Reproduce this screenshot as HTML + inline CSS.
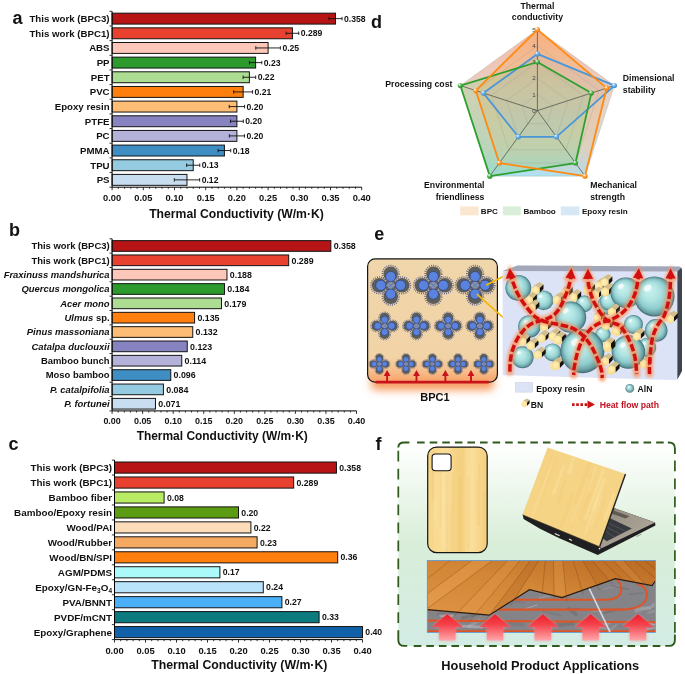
<!DOCTYPE html>
<html><head><meta charset="utf-8"><title>Figure</title>
<style>html,body{margin:0;padding:0;background:#fff}svg{display:block}text{font-family:"Liberation Sans",Arial,sans-serif;font-weight:bold;fill:#111}</style>
</head><body>
<svg width="685" height="674" viewBox="0 0 685 674">
<rect width="685" height="674" fill="#fff"/>
<g id="chartA"><rect x="112.10" y="13.17" width="223.39" height="10.92" fill="#B71515" stroke="#141414" stroke-width="1"/>
<path d="M328.94 18.63H342.04M328.94 16.88v3.5M342.04 16.88v3.5" stroke="#111" stroke-width="0.9" fill="none"/>
<text x="344.04" y="21.74" font-size="8.65" >0.358</text>
<text x="109.60" y="22.12" font-size="9.7" text-anchor="end">This work (BPC3)</text>
<rect x="112.10" y="27.83" width="180.34" height="10.92" fill="#E9412F" stroke="#141414" stroke-width="1"/>
<path d="M286.13 33.29H298.74M286.13 31.54v3.5M298.74 31.54v3.5" stroke="#111" stroke-width="0.9" fill="none"/>
<text x="300.74" y="36.40" font-size="8.65" >0.289</text>
<text x="109.60" y="36.78" font-size="9.7" text-anchor="end">This work (BPC1)</text>
<rect x="112.10" y="42.49" width="156.00" height="10.92" fill="#FCC6B8" stroke="#141414" stroke-width="1"/>
<path d="M255.81 47.95H280.39M255.81 46.20v3.5M280.39 46.20v3.5" stroke="#111" stroke-width="0.9" fill="none"/>
<text x="282.39" y="51.06" font-size="8.65" >0.25</text>
<text x="109.60" y="51.44" font-size="9.7" text-anchor="end">ABS</text>
<rect x="112.10" y="57.14" width="143.52" height="10.92" fill="#2D9A2D" stroke="#141414" stroke-width="1"/>
<path d="M249.44 62.60H261.80M249.44 60.85v3.5M261.80 60.85v3.5" stroke="#111" stroke-width="0.9" fill="none"/>
<text x="263.80" y="65.72" font-size="8.65" >0.23</text>
<text x="109.60" y="66.10" font-size="9.7" text-anchor="end">PP</text>
<rect x="112.10" y="71.80" width="137.28" height="10.92" fill="#ACDD92" stroke="#141414" stroke-width="1"/>
<path d="M243.08 77.26H255.68M243.08 75.51v3.5M255.68 75.51v3.5" stroke="#111" stroke-width="0.9" fill="none"/>
<text x="257.68" y="80.38" font-size="8.65" >0.22</text>
<text x="109.60" y="80.75" font-size="9.7" text-anchor="end">PET</text>
<rect x="112.10" y="86.46" width="131.04" height="10.92" fill="#FF7F0E" stroke="#141414" stroke-width="1"/>
<path d="M233.72 91.92H252.56M233.72 90.17v3.5M252.56 90.17v3.5" stroke="#111" stroke-width="0.9" fill="none"/>
<text x="254.56" y="95.03" font-size="8.65" >0.21</text>
<text x="109.60" y="95.41" font-size="9.7" text-anchor="end">PVC</text>
<rect x="112.10" y="101.12" width="124.80" height="10.92" fill="#FDBD74" stroke="#141414" stroke-width="1"/>
<path d="M229.22 106.58H244.58M229.22 104.83v3.5M244.58 104.83v3.5" stroke="#111" stroke-width="0.9" fill="none"/>
<text x="246.58" y="109.69" font-size="8.65" >0.20</text>
<text x="109.60" y="110.07" font-size="9.7" text-anchor="end">Epoxy resin</text>
<rect x="112.10" y="115.78" width="124.80" height="10.92" fill="#8783C1" stroke="#141414" stroke-width="1"/>
<path d="M230.47 121.24H243.33M230.47 119.49v3.5M243.33 119.49v3.5" stroke="#111" stroke-width="0.9" fill="none"/>
<text x="245.33" y="124.35" font-size="8.65" >0.20</text>
<text x="109.60" y="124.73" font-size="9.7" text-anchor="end">PTFE</text>
<rect x="112.10" y="130.44" width="124.80" height="10.92" fill="#B4B2D8" stroke="#141414" stroke-width="1"/>
<path d="M229.35 135.90H244.45M229.35 134.15v3.5M244.45 134.15v3.5" stroke="#111" stroke-width="0.9" fill="none"/>
<text x="246.45" y="139.01" font-size="8.65" >0.20</text>
<text x="109.60" y="139.39" font-size="9.7" text-anchor="end">PC</text>
<rect x="112.10" y="145.09" width="112.32" height="10.92" fill="#3E8EC4" stroke="#141414" stroke-width="1"/>
<path d="M218.12 150.55H230.72M218.12 148.80v3.5M230.72 148.80v3.5" stroke="#111" stroke-width="0.9" fill="none"/>
<text x="232.72" y="153.67" font-size="8.65" >0.18</text>
<text x="109.60" y="154.05" font-size="9.7" text-anchor="end">PMMA</text>
<rect x="112.10" y="159.75" width="81.12" height="10.92" fill="#95CBE1" stroke="#141414" stroke-width="1"/>
<path d="M186.67 165.21H199.77M186.67 163.46v3.5M199.77 163.46v3.5" stroke="#111" stroke-width="0.9" fill="none"/>
<text x="201.77" y="168.33" font-size="8.65" >0.13</text>
<text x="109.60" y="168.70" font-size="9.7" text-anchor="end">TPU</text>
<rect x="112.10" y="174.41" width="74.88" height="10.92" fill="#C8DDF0" stroke="#141414" stroke-width="1"/>
<path d="M174.31 179.87H199.65M174.31 178.12v3.5M199.65 178.12v3.5" stroke="#111" stroke-width="0.9" fill="none"/>
<text x="201.65" y="182.98" font-size="8.65" >0.12</text>
<text x="109.60" y="183.36" font-size="9.7" text-anchor="end">PS</text>
<path d="M112.10 11.30V187.20H361.70" stroke="#000" stroke-width="1" fill="none"/>
<path d="M112.10 11.30h-2.6M112.10 25.96h-2.6M112.10 40.62h-2.6M112.10 55.27h-2.6M112.10 69.93h-2.6M112.10 84.59h-2.6M112.10 99.25h-2.6M112.10 113.91h-2.6M112.10 128.57h-2.6M112.10 143.22h-2.6M112.10 157.88h-2.6M112.10 172.54h-2.6M112.10 187.20h-2.6M112.10 187.20v3.0M118.34 187.20v1.6M124.58 187.20v1.6M130.82 187.20v1.6M137.06 187.20v1.6M143.30 187.20v3.0M149.54 187.20v1.6M155.78 187.20v1.6M162.02 187.20v1.6M168.26 187.20v1.6M174.50 187.20v3.0M180.74 187.20v1.6M186.98 187.20v1.6M193.22 187.20v1.6M199.46 187.20v1.6M205.70 187.20v3.0M211.94 187.20v1.6M218.18 187.20v1.6M224.42 187.20v1.6M230.66 187.20v1.6M236.90 187.20v3.0M243.14 187.20v1.6M249.38 187.20v1.6M255.62 187.20v1.6M261.86 187.20v1.6M268.10 187.20v3.0M274.34 187.20v1.6M280.58 187.20v1.6M286.82 187.20v1.6M293.06 187.20v1.6M299.30 187.20v3.0M305.54 187.20v1.6M311.78 187.20v1.6M318.02 187.20v1.6M324.26 187.20v1.6M330.50 187.20v3.0M336.74 187.20v1.6M342.98 187.20v1.6M349.22 187.20v1.6M355.46 187.20v1.6M361.70 187.20v3.0" stroke="#000" stroke-width="0.8" fill="none"/>
<text x="112.10" y="200.55" font-size="9.3" text-anchor="middle">0.00</text>
<text x="143.30" y="200.55" font-size="9.3" text-anchor="middle">0.05</text>
<text x="174.50" y="200.55" font-size="9.3" text-anchor="middle">0.10</text>
<text x="205.70" y="200.55" font-size="9.3" text-anchor="middle">0.15</text>
<text x="236.90" y="200.55" font-size="9.3" text-anchor="middle">0.20</text>
<text x="268.10" y="200.55" font-size="9.3" text-anchor="middle">0.25</text>
<text x="299.30" y="200.55" font-size="9.3" text-anchor="middle">0.30</text>
<text x="330.50" y="200.55" font-size="9.3" text-anchor="middle">0.35</text>
<text x="361.70" y="200.55" font-size="9.3" text-anchor="middle">0.40</text>
<text x="236.50" y="218.29" font-size="12.2" text-anchor="middle">Thermal Conductivity (W/m·K)</text></g>
<g id="chartB"><rect x="112.10" y="240.63" width="218.74" height="10.68" fill="#B71515" stroke="#141414" stroke-width="1"/>
<text x="333.64" y="249.16" font-size="8.85" >0.358</text>
<text x="109.60" y="249.37" font-size="9.45" text-anchor="end">This work (BPC3)</text>
<rect x="112.10" y="254.97" width="176.58" height="10.68" fill="#E9412F" stroke="#141414" stroke-width="1"/>
<text x="291.48" y="263.50" font-size="8.85" >0.289</text>
<text x="109.60" y="263.71" font-size="9.45" text-anchor="end">This work (BPC1)</text>
<rect x="112.10" y="269.31" width="114.87" height="10.68" fill="#FCC6B8" stroke="#141414" stroke-width="1"/>
<text x="229.77" y="277.84" font-size="8.85" >0.188</text>
<text x="109.60" y="278.06" font-size="9.45" text-anchor="end"><tspan font-style="italic">Fraxinuss mandshurica</tspan></text>
<rect x="112.10" y="283.65" width="112.42" height="10.68" fill="#2D9A2D" stroke="#141414" stroke-width="1"/>
<text x="227.32" y="292.18" font-size="8.85" >0.184</text>
<text x="109.60" y="292.40" font-size="9.45" text-anchor="end"><tspan font-style="italic">Quercus mongolica</tspan></text>
<rect x="112.10" y="298.00" width="109.37" height="10.68" fill="#ACDD92" stroke="#141414" stroke-width="1"/>
<text x="224.27" y="306.52" font-size="8.85" >0.179</text>
<text x="109.60" y="306.74" font-size="9.45" text-anchor="end"><tspan font-style="italic">Acer mono</tspan></text>
<rect x="112.10" y="312.34" width="82.48" height="10.68" fill="#FF7F0E" stroke="#141414" stroke-width="1"/>
<text x="197.38" y="320.87" font-size="8.85" >0.135</text>
<text x="109.60" y="321.08" font-size="9.45" text-anchor="end"><tspan font-style="italic">Ulmus</tspan> sp.</text>
<rect x="112.10" y="326.68" width="80.65" height="10.68" fill="#FDBD74" stroke="#141414" stroke-width="1"/>
<text x="195.55" y="335.21" font-size="8.85" >0.132</text>
<text x="109.60" y="335.42" font-size="9.45" text-anchor="end"><tspan font-style="italic">Pinus massoniana</tspan></text>
<rect x="112.10" y="341.02" width="75.15" height="10.68" fill="#8783C1" stroke="#141414" stroke-width="1"/>
<text x="190.05" y="349.55" font-size="8.85" >0.123</text>
<text x="109.60" y="349.76" font-size="9.45" text-anchor="end"><tspan font-style="italic">Catalpa duclouxii</tspan></text>
<rect x="112.10" y="355.36" width="69.65" height="10.68" fill="#B4B2D8" stroke="#141414" stroke-width="1"/>
<text x="184.55" y="363.89" font-size="8.85" >0.114</text>
<text x="109.60" y="364.11" font-size="9.45" text-anchor="end">Bamboo bunch</text>
<rect x="112.10" y="369.70" width="58.66" height="10.68" fill="#3E8EC4" stroke="#141414" stroke-width="1"/>
<text x="173.56" y="378.23" font-size="8.85" >0.096</text>
<text x="109.60" y="378.45" font-size="9.45" text-anchor="end">Moso bamboo</text>
<rect x="112.10" y="384.05" width="51.32" height="10.68" fill="#95CBE1" stroke="#141414" stroke-width="1"/>
<text x="166.22" y="392.57" font-size="8.85" >0.084</text>
<text x="109.60" y="392.79" font-size="9.45" text-anchor="end"><tspan font-style="italic">P. catalpifolia</tspan></text>
<rect x="112.10" y="398.39" width="43.38" height="10.68" fill="#C8DDF0" stroke="#141414" stroke-width="1"/>
<text x="158.28" y="406.92" font-size="8.85" >0.071</text>
<text x="109.60" y="407.13" font-size="9.45" text-anchor="end"><tspan font-style="italic">P. fortunei</tspan></text>
<path d="M112.10 238.80V410.90H356.50" stroke="#000" stroke-width="1" fill="none"/>
<path d="M112.10 238.80h-2.6M112.10 253.14h-2.6M112.10 267.48h-2.6M112.10 281.82h-2.6M112.10 296.17h-2.6M112.10 310.51h-2.6M112.10 324.85h-2.6M112.10 339.19h-2.6M112.10 353.53h-2.6M112.10 367.88h-2.6M112.10 382.22h-2.6M112.10 396.56h-2.6M112.10 410.90h-2.6M112.10 410.90v3.0M118.21 410.90v1.6M124.32 410.90v1.6M130.43 410.90v1.6M136.54 410.90v1.6M142.65 410.90v3.0M148.76 410.90v1.6M154.87 410.90v1.6M160.98 410.90v1.6M167.09 410.90v1.6M173.20 410.90v3.0M179.31 410.90v1.6M185.42 410.90v1.6M191.53 410.90v1.6M197.64 410.90v1.6M203.75 410.90v3.0M209.86 410.90v1.6M215.97 410.90v1.6M222.08 410.90v1.6M228.19 410.90v1.6M234.30 410.90v3.0M240.41 410.90v1.6M246.52 410.90v1.6M252.63 410.90v1.6M258.74 410.90v1.6M264.85 410.90v3.0M270.96 410.90v1.6M277.07 410.90v1.6M283.18 410.90v1.6M289.29 410.90v1.6M295.40 410.90v3.0M301.51 410.90v1.6M307.62 410.90v1.6M313.73 410.90v1.6M319.84 410.90v1.6M325.95 410.90v3.0M332.06 410.90v1.6M338.17 410.90v1.6M344.28 410.90v1.6M350.39 410.90v1.6M356.50 410.90v3.0" stroke="#000" stroke-width="0.8" fill="none"/>
<text x="112.10" y="424.12" font-size="8.95" text-anchor="middle">0.00</text>
<text x="142.65" y="424.12" font-size="8.95" text-anchor="middle">0.05</text>
<text x="173.20" y="424.12" font-size="8.95" text-anchor="middle">0.10</text>
<text x="203.75" y="424.12" font-size="8.95" text-anchor="middle">0.15</text>
<text x="234.30" y="424.12" font-size="8.95" text-anchor="middle">0.20</text>
<text x="264.85" y="424.12" font-size="8.95" text-anchor="middle">0.25</text>
<text x="295.40" y="424.12" font-size="8.95" text-anchor="middle">0.30</text>
<text x="325.95" y="424.12" font-size="8.95" text-anchor="middle">0.35</text>
<text x="356.50" y="424.12" font-size="8.95" text-anchor="middle">0.40</text>
<text x="222.20" y="440.00" font-size="11.95" text-anchor="middle">Thermal Conductivity (W/m·K)</text></g>
<g id="chartC"><rect x="114.50" y="462.01" width="221.96" height="11.14" fill="#B71515" stroke="#141414" stroke-width="1"/>
<text x="339.26" y="470.71" font-size="8.7" >0.358</text>
<text x="112.00" y="471.13" font-size="9.85" text-anchor="end">This work (BPC3)</text>
<rect x="114.50" y="476.97" width="179.18" height="11.14" fill="#E9412F" stroke="#141414" stroke-width="1"/>
<text x="296.48" y="485.67" font-size="8.7" >0.289</text>
<text x="112.00" y="486.08" font-size="9.85" text-anchor="end">This work (BPC1)</text>
<rect x="114.50" y="491.92" width="49.60" height="11.14" fill="#B9EA63" stroke="#141414" stroke-width="1"/>
<text x="166.90" y="500.63" font-size="8.7" >0.08</text>
<text x="112.00" y="501.04" font-size="9.85" text-anchor="end">Bamboo fiber</text>
<rect x="114.50" y="506.88" width="124.00" height="11.14" fill="#5B9C12" stroke="#141414" stroke-width="1"/>
<text x="241.30" y="515.59" font-size="8.7" >0.20</text>
<text x="112.00" y="516.00" font-size="9.85" text-anchor="end">Bamboo/Epoxy resin</text>
<rect x="114.50" y="521.84" width="136.40" height="11.14" fill="#FDDCBA" stroke="#141414" stroke-width="1"/>
<text x="253.70" y="530.54" font-size="8.7" >0.22</text>
<text x="112.00" y="530.96" font-size="9.85" text-anchor="end">Wood/PAI</text>
<rect x="114.50" y="536.80" width="142.60" height="11.14" fill="#F5A962" stroke="#141414" stroke-width="1"/>
<text x="259.90" y="545.50" font-size="8.7" >0.23</text>
<text x="112.00" y="545.92" font-size="9.85" text-anchor="end">Wood/Rubber</text>
<rect x="114.50" y="551.76" width="223.20" height="11.14" fill="#FF7F0E" stroke="#141414" stroke-width="1"/>
<text x="340.50" y="560.46" font-size="8.7" >0.36</text>
<text x="112.00" y="560.88" font-size="9.85" text-anchor="end">Wood/BN/SPI</text>
<rect x="114.50" y="566.72" width="105.40" height="11.14" fill="#ABFAFA" stroke="#141414" stroke-width="1"/>
<text x="222.70" y="575.42" font-size="8.7" >0.17</text>
<text x="112.00" y="575.83" font-size="9.85" text-anchor="end">AGM/PDMS</text>
<rect x="114.50" y="581.67" width="148.80" height="11.14" fill="#B9E3FB" stroke="#141414" stroke-width="1"/>
<text x="266.10" y="590.38" font-size="8.7" >0.24</text>
<text x="112.00" y="590.79" font-size="9.85" text-anchor="end">Epoxy/GN-Fe<tspan font-size="6.5" dy="2">3</tspan><tspan dy="-2">O</tspan><tspan font-size="6.5" dy="2">4</tspan></text>
<rect x="114.50" y="596.63" width="167.40" height="11.14" fill="#4BAFF8" stroke="#141414" stroke-width="1"/>
<text x="284.70" y="605.34" font-size="8.7" >0.27</text>
<text x="112.00" y="605.75" font-size="9.85" text-anchor="end">PVA/BNNT</text>
<rect x="114.50" y="611.59" width="204.60" height="11.14" fill="#0B7B80" stroke="#141414" stroke-width="1"/>
<text x="321.90" y="620.29" font-size="8.7" >0.33</text>
<text x="112.00" y="620.71" font-size="9.85" text-anchor="end">PVDF/mCNT</text>
<rect x="114.50" y="626.55" width="248.00" height="11.14" fill="#1161A9" stroke="#141414" stroke-width="1"/>
<text x="365.30" y="635.25" font-size="8.7" >0.40</text>
<text x="112.00" y="635.67" font-size="9.85" text-anchor="end">Epoxy/Graphene</text>
<path d="M114.50 460.10V639.60H362.50" stroke="#000" stroke-width="1" fill="none"/>
<path d="M114.50 460.10h-2.6M114.50 475.06h-2.6M114.50 490.02h-2.6M114.50 504.98h-2.6M114.50 519.93h-2.6M114.50 534.89h-2.6M114.50 549.85h-2.6M114.50 564.81h-2.6M114.50 579.77h-2.6M114.50 594.73h-2.6M114.50 609.68h-2.6M114.50 624.64h-2.6M114.50 639.60h-2.6M114.50 639.60v3.0M120.70 639.60v1.6M126.90 639.60v1.6M133.10 639.60v1.6M139.30 639.60v1.6M145.50 639.60v3.0M151.70 639.60v1.6M157.90 639.60v1.6M164.10 639.60v1.6M170.30 639.60v1.6M176.50 639.60v3.0M182.70 639.60v1.6M188.90 639.60v1.6M195.10 639.60v1.6M201.30 639.60v1.6M207.50 639.60v3.0M213.70 639.60v1.6M219.90 639.60v1.6M226.10 639.60v1.6M232.30 639.60v1.6M238.50 639.60v3.0M244.70 639.60v1.6M250.90 639.60v1.6M257.10 639.60v1.6M263.30 639.60v1.6M269.50 639.60v3.0M275.70 639.60v1.6M281.90 639.60v1.6M288.10 639.60v1.6M294.30 639.60v1.6M300.50 639.60v3.0M306.70 639.60v1.6M312.90 639.60v1.6M319.10 639.60v1.6M325.30 639.60v1.6M331.50 639.60v3.0M337.70 639.60v1.6M343.90 639.60v1.6M350.10 639.60v1.6M356.30 639.60v1.6M362.50 639.60v3.0" stroke="#000" stroke-width="0.8" fill="none"/>
<text x="114.50" y="653.58" font-size="9.4" text-anchor="middle">0.00</text>
<text x="145.50" y="653.58" font-size="9.4" text-anchor="middle">0.05</text>
<text x="176.50" y="653.58" font-size="9.4" text-anchor="middle">0.10</text>
<text x="207.50" y="653.58" font-size="9.4" text-anchor="middle">0.15</text>
<text x="238.50" y="653.58" font-size="9.4" text-anchor="middle">0.20</text>
<text x="269.50" y="653.58" font-size="9.4" text-anchor="middle">0.25</text>
<text x="300.50" y="653.58" font-size="9.4" text-anchor="middle">0.30</text>
<text x="331.50" y="653.58" font-size="9.4" text-anchor="middle">0.35</text>
<text x="362.50" y="653.58" font-size="9.4" text-anchor="middle">0.40</text>
<text x="239.30" y="669.33" font-size="12.3" text-anchor="middle">Thermal Conductivity (W/m·K)</text></g>
<text x="12.5" y="24" font-size="18">a</text><text x="9" y="236.4" font-size="18">b</text><text x="8.5" y="449.7" font-size="18">c</text><text x="371" y="28.2" font-size="18">d</text><text x="374.2" y="240.2" font-size="18">e</text><text x="375.5" y="450.2" font-size="18">f</text>

<g id="radar"><defs>
<linearGradient id="rbg" x1="0" y1="0" x2="0" y2="1"><stop offset="0" stop-color="#F4B9A4"/><stop offset="0.45" stop-color="#E6D3C9"/><stop offset="0.82" stop-color="#D6D8D5"/><stop offset="0.93" stop-color="#BCDDE8"/><stop offset="1" stop-color="#AEE1F4"/></linearGradient>
<radialGradient id="mO" cx="0.35" cy="0.3" r="0.7"><stop offset="0" stop-color="#fff"/><stop offset="0.45" stop-color="#FFA23C"/><stop offset="1" stop-color="#F07C00"/></radialGradient>
<radialGradient id="mG" cx="0.35" cy="0.3" r="0.7"><stop offset="0" stop-color="#fff"/><stop offset="0.45" stop-color="#55B955"/><stop offset="1" stop-color="#259025"/></radialGradient>
<radialGradient id="mB" cx="0.35" cy="0.3" r="0.7"><stop offset="0" stop-color="#fff"/><stop offset="0.45" stop-color="#6FB1E6"/><stop offset="1" stop-color="#3F8FD0"/></radialGradient>
<linearGradient id="fO" gradientUnits="userSpaceOnUse" x1="0" y1="29" x2="0" y2="177"><stop offset="0" stop-color="#FBA550" stop-opacity="0.40"/><stop offset="0.5" stop-color="#F8AA5A" stop-opacity="0.30"/><stop offset="1" stop-color="#F5B070" stop-opacity="0.10"/></linearGradient>
<linearGradient id="fG" gradientUnits="userSpaceOnUse" x1="0" y1="60" x2="0" y2="177"><stop offset="0" stop-color="#8CCB70" stop-opacity="0.22"/><stop offset="1" stop-color="#7ED08A" stop-opacity="0.36"/></linearGradient>
</defs><polygon points="537.40,29.60 614.44,85.57 585.01,176.13 489.79,176.13 460.36,85.57" fill="url(#rbg)"/><polygon points="537.40,29.60 606.73,88.07 585.01,176.13 499.31,163.02 475.77,90.58" fill="url(#fO)"/><polygon points="537.40,62.00 591.32,93.08 575.49,163.02 489.79,176.13 460.36,85.57" fill="url(#fG)"/><polygon points="537.40,53.90 614.44,85.57 556.44,136.81 518.36,136.81 483.48,93.08" fill="#8FBBE0" fill-opacity="0.14"/><polygon points="537.40,94.40 552.81,105.59 546.92,123.71 527.88,123.71 521.99,105.59" fill="none" stroke="#9A9A8A" stroke-opacity="0.55" stroke-width="0.5"/><polygon points="537.40,78.20 568.21,100.59 556.44,136.81 518.36,136.81 506.59,100.59" fill="none" stroke="#9A9A8A" stroke-opacity="0.55" stroke-width="0.5"/><polygon points="537.40,62.00 583.62,95.58 565.97,149.92 508.83,149.92 491.18,95.58" fill="none" stroke="#9A9A8A" stroke-opacity="0.55" stroke-width="0.5"/><polygon points="537.40,45.80 599.03,90.58 575.49,163.02 499.31,163.02 475.77,90.58" fill="none" stroke="#9A9A8A" stroke-opacity="0.55" stroke-width="0.5"/><polygon points="537.40,29.60 614.44,85.57 585.01,176.13 489.79,176.13 460.36,85.57" fill="none" stroke="#9A9A8A" stroke-opacity="0.55" stroke-width="0.5"/><path d="M537.4 110.6L537.40 29.60" stroke="#222" stroke-width="0.55"/><path d="M537.4 110.6L614.44 85.57" stroke="#222" stroke-width="0.55"/><path d="M537.4 110.6L585.01 176.13" stroke="#222" stroke-width="0.55"/><path d="M537.4 110.6L489.79 176.13" stroke="#222" stroke-width="0.55"/><path d="M537.4 110.6L460.36 85.57" stroke="#222" stroke-width="0.55"/><text x="535.80" y="112.80" font-size="6.2" text-anchor="end" style="fill:#444;font-weight:normal">0</text><text x="535.80" y="96.60" font-size="6.2" text-anchor="end" style="fill:#444;font-weight:normal">1</text><text x="535.80" y="80.40" font-size="6.2" text-anchor="end" style="fill:#444;font-weight:normal">2</text><text x="535.80" y="64.20" font-size="6.2" text-anchor="end" style="fill:#444;font-weight:normal">3</text><text x="535.80" y="48.00" font-size="6.2" text-anchor="end" style="fill:#444;font-weight:normal">4</text><text x="535.80" y="31.80" font-size="6.2" text-anchor="end" style="fill:#444;font-weight:normal">5</text><polygon points="537.40,53.90 614.44,85.57 556.44,136.81 518.36,136.81 483.48,93.08" fill="none" stroke="#4A97D8" stroke-width="1.8" stroke-linejoin="round"/><polygon points="537.40,62.00 591.32,93.08 575.49,163.02 489.79,176.13 460.36,85.57" fill="none" stroke="#2FA02F" stroke-width="1.8" stroke-linejoin="round"/><polygon points="537.40,29.60 606.73,88.07 585.01,176.13 499.31,163.02 475.77,90.58" fill="none" stroke="#FF8A10" stroke-width="1.8" stroke-linejoin="round"/><circle cx="537.40" cy="53.90" r="2.6" fill="url(#mB)"/><circle cx="614.44" cy="85.57" r="2.6" fill="url(#mB)"/><circle cx="556.44" cy="136.81" r="2.6" fill="url(#mB)"/><circle cx="518.36" cy="136.81" r="2.6" fill="url(#mB)"/><circle cx="483.48" cy="93.08" r="2.6" fill="url(#mB)"/><circle cx="537.40" cy="62.00" r="2.6" fill="url(#mG)"/><circle cx="591.32" cy="93.08" r="2.6" fill="url(#mG)"/><circle cx="575.49" cy="163.02" r="2.6" fill="url(#mG)"/><circle cx="489.79" cy="176.13" r="2.6" fill="url(#mG)"/><circle cx="460.36" cy="85.57" r="2.6" fill="url(#mG)"/><circle cx="537.40" cy="29.60" r="2.6" fill="url(#mO)"/><circle cx="606.73" cy="88.07" r="2.6" fill="url(#mO)"/><circle cx="585.01" cy="176.13" r="2.6" fill="url(#mO)"/><circle cx="499.31" cy="163.02" r="2.6" fill="url(#mO)"/><circle cx="475.77" cy="90.58" r="2.6" fill="url(#mO)"/><text x="537.4" y="8.73" font-size="8.7" text-anchor="middle">Thermal</text><text x="537.4" y="20.23" font-size="8.7" text-anchor="middle">conductivity</text><text x="622.8" y="81.23" font-size="8.7" text-anchor="start">Dimensional</text><text x="622.8" y="92.53" font-size="8.7" text-anchor="start">stability</text><text x="590.2" y="188.33" font-size="8.7" text-anchor="start">Mechanical</text><text x="590.2" y="199.63" font-size="8.7" text-anchor="start">strength</text><text x="484.4" y="188.33" font-size="8.7" text-anchor="end">Environmental</text><text x="484.4" y="199.63" font-size="8.7" text-anchor="end">friendliness</text><text x="452.4" y="87.03" font-size="8.7" text-anchor="end">Processing cost</text><rect x="460.3" y="206.4" width="18.2" height="8.9" fill="#FBE6CF"/><rect x="503" y="206.4" width="17.8" height="8.9" fill="#D9EFD9"/><rect x="560.8" y="206.4" width="18.6" height="8.9" fill="#D6E8F6"/><text x="480.8" y="213.82" font-size="8.1" text-anchor="start">BPC</text><text x="523.4" y="213.82" font-size="8.1" text-anchor="start">Bamboo</text><text x="581.9" y="213.82" font-size="8.1" text-anchor="start">Epoxy resin</text></g>

<g id="schem"><defs>
<linearGradient id="boxg" x1="0" y1="0" x2="0" y2="1"><stop offset="0" stop-color="#F0D6AB"/><stop offset="0.8" stop-color="#F1D3A6"/><stop offset="0.92" stop-color="#F6BC88"/><stop offset="1" stop-color="#F9A068"/></linearGradient>
<radialGradient id="sph" cx="0.5" cy="0.5" r="0.5" fx="0.34" fy="0.3"><stop offset="0" stop-color="#D0F4F1"/><stop offset="0.45" stop-color="#AEE3E1"/><stop offset="0.72" stop-color="#90CDCE"/><stop offset="0.9" stop-color="#679FA4"/><stop offset="1" stop-color="#3F686F"/></radialGradient>
<radialGradient id="sphs" cx="0.5" cy="0.5" r="0.5" fx="0.36" fy="0.32"><stop offset="0" stop-color="#E8FBFA"/><stop offset="0.45" stop-color="#A7D9D9"/><stop offset="1" stop-color="#4F868C"/></radialGradient>
<radialGradient id="bng" cx="0.45" cy="0.45" r="0.6"><stop offset="0" stop-color="#FFF3BE"/><stop offset="0.7" stop-color="#FBE297"/><stop offset="1" stop-color="#F2CE78"/></radialGradient>
<filter id="glow" x="-20%" y="-20%" width="140%" height="140%"><feGaussianBlur stdDeviation="1.5"/></filter>
<filter id="glow2" x="-30%" y="-100%" width="160%" height="300%"><feGaussianBlur stdDeviation="4"/></filter>
<filter id="b1" x="-50%" y="-50%" width="200%" height="200%"><feGaussianBlur stdDeviation="0.6"/></filter>
</defs><rect x="371" y="375" width="123" height="15" rx="5" fill="#F7995A" filter="url(#glow2)"/><rect x="367.6" y="258.9" width="129.8" height="123.2" rx="7.5" fill="url(#boxg)" stroke="#151515" stroke-width="1.2"/><g transform="translate(390.70 285.30)"><circle cx="0.00" cy="-11.45" r="8.31" fill="none" stroke="#66678A" stroke-width="1.57" stroke-dasharray="1.00 1.15"/><circle cx="11.45" cy="0.00" r="8.31" fill="none" stroke="#66678A" stroke-width="1.57" stroke-dasharray="1.00 1.15"/><circle cx="0.00" cy="11.45" r="8.31" fill="none" stroke="#66678A" stroke-width="1.57" stroke-dasharray="1.00 1.15"/><circle cx="-11.45" cy="0.00" r="8.31" fill="none" stroke="#66678A" stroke-width="1.57" stroke-dasharray="1.00 1.15"/><circle cx="0.00" cy="-11.45" r="7.31" fill="#5A5D59"/><circle cx="11.45" cy="0.00" r="7.31" fill="#5A5D59"/><circle cx="0.00" cy="11.45" r="7.31" fill="#5A5D59"/><circle cx="-11.45" cy="0.00" r="7.31" fill="#5A5D59"/><circle r="5.94" fill="#5A5D59"/><rect x="-3.39" y="-3.39" width="6.78" height="6.78" fill="#8C93A8" transform="rotate(45)"/><path d="M-3.39 -3.39L3.39 3.39M3.39 -3.39L-3.39 3.39" stroke="#5A78C8" stroke-width="0.95"/><circle cx="0.00" cy="-8.77" r="5.09" fill="#5A83E0" stroke="#2F3F78" stroke-width="0.68"/><circle cx="9.89" cy="0.00" r="5.09" fill="#5A83E0" stroke="#2F3F78" stroke-width="0.68"/><circle cx="0.00" cy="8.77" r="5.09" fill="#5A83E0" stroke="#2F3F78" stroke-width="0.68"/><circle cx="-9.89" cy="0.00" r="5.09" fill="#5A83E0" stroke="#2F3F78" stroke-width="0.68"/></g><g transform="translate(433.40 285.30)"><circle cx="0.00" cy="-11.45" r="8.31" fill="none" stroke="#66678A" stroke-width="1.57" stroke-dasharray="1.00 1.15"/><circle cx="11.45" cy="0.00" r="8.31" fill="none" stroke="#66678A" stroke-width="1.57" stroke-dasharray="1.00 1.15"/><circle cx="0.00" cy="11.45" r="8.31" fill="none" stroke="#66678A" stroke-width="1.57" stroke-dasharray="1.00 1.15"/><circle cx="-11.45" cy="0.00" r="8.31" fill="none" stroke="#66678A" stroke-width="1.57" stroke-dasharray="1.00 1.15"/><circle cx="0.00" cy="-11.45" r="7.31" fill="#5A5D59"/><circle cx="11.45" cy="0.00" r="7.31" fill="#5A5D59"/><circle cx="0.00" cy="11.45" r="7.31" fill="#5A5D59"/><circle cx="-11.45" cy="0.00" r="7.31" fill="#5A5D59"/><circle r="5.94" fill="#5A5D59"/><rect x="-3.39" y="-3.39" width="6.78" height="6.78" fill="#8C93A8" transform="rotate(45)"/><path d="M-3.39 -3.39L3.39 3.39M3.39 -3.39L-3.39 3.39" stroke="#5A78C8" stroke-width="0.95"/><circle cx="0.00" cy="-8.77" r="5.09" fill="#5A83E0" stroke="#2F3F78" stroke-width="0.68"/><circle cx="9.89" cy="0.00" r="5.09" fill="#5A83E0" stroke="#2F3F78" stroke-width="0.68"/><circle cx="0.00" cy="8.77" r="5.09" fill="#5A83E0" stroke="#2F3F78" stroke-width="0.68"/><circle cx="-9.89" cy="0.00" r="5.09" fill="#5A83E0" stroke="#2F3F78" stroke-width="0.68"/></g><g transform="translate(475.10 285.30)"><circle cx="0.00" cy="-11.45" r="8.31" fill="none" stroke="#66678A" stroke-width="1.57" stroke-dasharray="1.00 1.15"/><circle cx="11.45" cy="0.00" r="8.31" fill="none" stroke="#66678A" stroke-width="1.57" stroke-dasharray="1.00 1.15"/><circle cx="0.00" cy="11.45" r="8.31" fill="none" stroke="#66678A" stroke-width="1.57" stroke-dasharray="1.00 1.15"/><circle cx="-11.45" cy="0.00" r="8.31" fill="none" stroke="#66678A" stroke-width="1.57" stroke-dasharray="1.00 1.15"/><circle cx="0.00" cy="-11.45" r="7.31" fill="#5A5D59"/><circle cx="11.45" cy="0.00" r="7.31" fill="#5A5D59"/><circle cx="0.00" cy="11.45" r="7.31" fill="#5A5D59"/><circle cx="-11.45" cy="0.00" r="7.31" fill="#5A5D59"/><circle r="5.94" fill="#5A5D59"/><rect x="-3.39" y="-3.39" width="6.78" height="6.78" fill="#8C93A8" transform="rotate(45)"/><path d="M-3.39 -3.39L3.39 3.39M3.39 -3.39L-3.39 3.39" stroke="#5A78C8" stroke-width="0.95"/><circle cx="0.00" cy="-8.77" r="5.09" fill="#5A83E0" stroke="#2F3F78" stroke-width="0.68"/><circle cx="9.89" cy="0.00" r="5.09" fill="#5A83E0" stroke="#2F3F78" stroke-width="0.68"/><circle cx="0.00" cy="8.77" r="5.09" fill="#5A83E0" stroke="#2F3F78" stroke-width="0.68"/><circle cx="-9.89" cy="0.00" r="5.09" fill="#5A83E0" stroke="#2F3F78" stroke-width="0.68"/></g><g transform="translate(384.60 325.90)"><circle cx="0.00" cy="-7.99" r="5.86" fill="none" stroke="#66678A" stroke-width="1.19" stroke-dasharray="0.75 0.88"/><circle cx="7.99" cy="0.00" r="5.86" fill="none" stroke="#66678A" stroke-width="1.19" stroke-dasharray="0.75 0.88"/><circle cx="0.00" cy="7.99" r="5.86" fill="none" stroke="#66678A" stroke-width="1.19" stroke-dasharray="0.75 0.88"/><circle cx="-7.99" cy="0.00" r="5.86" fill="none" stroke="#66678A" stroke-width="1.19" stroke-dasharray="0.75 0.88"/><circle cx="0.00" cy="-7.99" r="5.11" fill="#5A5D59"/><circle cx="7.99" cy="0.00" r="5.11" fill="#5A5D59"/><circle cx="0.00" cy="7.99" r="5.11" fill="#5A5D59"/><circle cx="-7.99" cy="0.00" r="5.11" fill="#5A5D59"/><circle r="4.14" fill="#5A5D59"/><rect x="-2.37" y="-2.37" width="4.74" height="4.74" fill="#8C93A8" transform="rotate(45)"/><path d="M-2.37 -2.37L2.37 2.37M2.37 -2.37L-2.37 2.37" stroke="#5A78C8" stroke-width="0.69"/><circle cx="0.00" cy="-6.12" r="3.55" fill="#5A83E0" stroke="#2F3F78" stroke-width="0.52"/><circle cx="6.90" cy="0.00" r="3.55" fill="#5A83E0" stroke="#2F3F78" stroke-width="0.52"/><circle cx="0.00" cy="6.12" r="3.55" fill="#5A83E0" stroke="#2F3F78" stroke-width="0.52"/><circle cx="-6.90" cy="0.00" r="3.55" fill="#5A83E0" stroke="#2F3F78" stroke-width="0.52"/></g><g transform="translate(416.50 325.90)"><circle cx="0.00" cy="-7.99" r="5.86" fill="none" stroke="#66678A" stroke-width="1.19" stroke-dasharray="0.75 0.88"/><circle cx="7.99" cy="0.00" r="5.86" fill="none" stroke="#66678A" stroke-width="1.19" stroke-dasharray="0.75 0.88"/><circle cx="0.00" cy="7.99" r="5.86" fill="none" stroke="#66678A" stroke-width="1.19" stroke-dasharray="0.75 0.88"/><circle cx="-7.99" cy="0.00" r="5.86" fill="none" stroke="#66678A" stroke-width="1.19" stroke-dasharray="0.75 0.88"/><circle cx="0.00" cy="-7.99" r="5.11" fill="#5A5D59"/><circle cx="7.99" cy="0.00" r="5.11" fill="#5A5D59"/><circle cx="0.00" cy="7.99" r="5.11" fill="#5A5D59"/><circle cx="-7.99" cy="0.00" r="5.11" fill="#5A5D59"/><circle r="4.14" fill="#5A5D59"/><rect x="-2.37" y="-2.37" width="4.74" height="4.74" fill="#8C93A8" transform="rotate(45)"/><path d="M-2.37 -2.37L2.37 2.37M2.37 -2.37L-2.37 2.37" stroke="#5A78C8" stroke-width="0.69"/><circle cx="0.00" cy="-6.12" r="3.55" fill="#5A83E0" stroke="#2F3F78" stroke-width="0.52"/><circle cx="6.90" cy="0.00" r="3.55" fill="#5A83E0" stroke="#2F3F78" stroke-width="0.52"/><circle cx="0.00" cy="6.12" r="3.55" fill="#5A83E0" stroke="#2F3F78" stroke-width="0.52"/><circle cx="-6.90" cy="0.00" r="3.55" fill="#5A83E0" stroke="#2F3F78" stroke-width="0.52"/></g><g transform="translate(448.20 325.90)"><circle cx="0.00" cy="-7.99" r="5.86" fill="none" stroke="#66678A" stroke-width="1.19" stroke-dasharray="0.75 0.88"/><circle cx="7.99" cy="0.00" r="5.86" fill="none" stroke="#66678A" stroke-width="1.19" stroke-dasharray="0.75 0.88"/><circle cx="0.00" cy="7.99" r="5.86" fill="none" stroke="#66678A" stroke-width="1.19" stroke-dasharray="0.75 0.88"/><circle cx="-7.99" cy="0.00" r="5.86" fill="none" stroke="#66678A" stroke-width="1.19" stroke-dasharray="0.75 0.88"/><circle cx="0.00" cy="-7.99" r="5.11" fill="#5A5D59"/><circle cx="7.99" cy="0.00" r="5.11" fill="#5A5D59"/><circle cx="0.00" cy="7.99" r="5.11" fill="#5A5D59"/><circle cx="-7.99" cy="0.00" r="5.11" fill="#5A5D59"/><circle r="4.14" fill="#5A5D59"/><rect x="-2.37" y="-2.37" width="4.74" height="4.74" fill="#8C93A8" transform="rotate(45)"/><path d="M-2.37 -2.37L2.37 2.37M2.37 -2.37L-2.37 2.37" stroke="#5A78C8" stroke-width="0.69"/><circle cx="0.00" cy="-6.12" r="3.55" fill="#5A83E0" stroke="#2F3F78" stroke-width="0.52"/><circle cx="6.90" cy="0.00" r="3.55" fill="#5A83E0" stroke="#2F3F78" stroke-width="0.52"/><circle cx="0.00" cy="6.12" r="3.55" fill="#5A83E0" stroke="#2F3F78" stroke-width="0.52"/><circle cx="-6.90" cy="0.00" r="3.55" fill="#5A83E0" stroke="#2F3F78" stroke-width="0.52"/></g><g transform="translate(479.80 325.90)"><circle cx="0.00" cy="-7.99" r="5.86" fill="none" stroke="#66678A" stroke-width="1.19" stroke-dasharray="0.75 0.88"/><circle cx="7.99" cy="0.00" r="5.86" fill="none" stroke="#66678A" stroke-width="1.19" stroke-dasharray="0.75 0.88"/><circle cx="0.00" cy="7.99" r="5.86" fill="none" stroke="#66678A" stroke-width="1.19" stroke-dasharray="0.75 0.88"/><circle cx="-7.99" cy="0.00" r="5.86" fill="none" stroke="#66678A" stroke-width="1.19" stroke-dasharray="0.75 0.88"/><circle cx="0.00" cy="-7.99" r="5.11" fill="#5A5D59"/><circle cx="7.99" cy="0.00" r="5.11" fill="#5A5D59"/><circle cx="0.00" cy="7.99" r="5.11" fill="#5A5D59"/><circle cx="-7.99" cy="0.00" r="5.11" fill="#5A5D59"/><circle r="4.14" fill="#5A5D59"/><rect x="-2.37" y="-2.37" width="4.74" height="4.74" fill="#8C93A8" transform="rotate(45)"/><path d="M-2.37 -2.37L2.37 2.37M2.37 -2.37L-2.37 2.37" stroke="#5A78C8" stroke-width="0.69"/><circle cx="0.00" cy="-6.12" r="3.55" fill="#5A83E0" stroke="#2F3F78" stroke-width="0.52"/><circle cx="6.90" cy="0.00" r="3.55" fill="#5A83E0" stroke="#2F3F78" stroke-width="0.52"/><circle cx="0.00" cy="6.12" r="3.55" fill="#5A83E0" stroke="#2F3F78" stroke-width="0.52"/><circle cx="-6.90" cy="0.00" r="3.55" fill="#5A83E0" stroke="#2F3F78" stroke-width="0.52"/></g><g transform="translate(379.40 364.00)"><circle cx="0.00" cy="-6.05" r="4.48" fill="none" stroke="#66678A" stroke-width="0.97" stroke-dasharray="0.62 0.73"/><circle cx="6.05" cy="0.00" r="4.48" fill="none" stroke="#66678A" stroke-width="0.97" stroke-dasharray="0.62 0.73"/><circle cx="0.00" cy="6.05" r="4.48" fill="none" stroke="#66678A" stroke-width="0.97" stroke-dasharray="0.62 0.73"/><circle cx="-6.05" cy="0.00" r="4.48" fill="none" stroke="#66678A" stroke-width="0.97" stroke-dasharray="0.62 0.73"/><circle cx="0.00" cy="-6.05" r="3.86" fill="#5A5D59"/><circle cx="6.05" cy="0.00" r="3.86" fill="#5A5D59"/><circle cx="0.00" cy="6.05" r="3.86" fill="#5A5D59"/><circle cx="-6.05" cy="0.00" r="3.86" fill="#5A5D59"/><circle r="3.14" fill="#5A5D59"/><rect x="-1.79" y="-1.79" width="3.58" height="3.58" fill="#8C93A8" transform="rotate(45)"/><path d="M-1.79 -1.79L1.79 1.79M1.79 -1.79L-1.79 1.79" stroke="#5A78C8" stroke-width="0.55"/><circle cx="0.00" cy="-4.63" r="2.69" fill="#5A83E0" stroke="#2F3F78" stroke-width="0.43"/><circle cx="5.22" cy="0.00" r="2.69" fill="#5A83E0" stroke="#2F3F78" stroke-width="0.43"/><circle cx="0.00" cy="4.63" r="2.69" fill="#5A83E0" stroke="#2F3F78" stroke-width="0.43"/><circle cx="-5.22" cy="0.00" r="2.69" fill="#5A83E0" stroke="#2F3F78" stroke-width="0.43"/></g><g transform="translate(406.00 364.00)"><circle cx="0.00" cy="-6.05" r="4.48" fill="none" stroke="#66678A" stroke-width="0.97" stroke-dasharray="0.62 0.73"/><circle cx="6.05" cy="0.00" r="4.48" fill="none" stroke="#66678A" stroke-width="0.97" stroke-dasharray="0.62 0.73"/><circle cx="0.00" cy="6.05" r="4.48" fill="none" stroke="#66678A" stroke-width="0.97" stroke-dasharray="0.62 0.73"/><circle cx="-6.05" cy="0.00" r="4.48" fill="none" stroke="#66678A" stroke-width="0.97" stroke-dasharray="0.62 0.73"/><circle cx="0.00" cy="-6.05" r="3.86" fill="#5A5D59"/><circle cx="6.05" cy="0.00" r="3.86" fill="#5A5D59"/><circle cx="0.00" cy="6.05" r="3.86" fill="#5A5D59"/><circle cx="-6.05" cy="0.00" r="3.86" fill="#5A5D59"/><circle r="3.14" fill="#5A5D59"/><rect x="-1.79" y="-1.79" width="3.58" height="3.58" fill="#8C93A8" transform="rotate(45)"/><path d="M-1.79 -1.79L1.79 1.79M1.79 -1.79L-1.79 1.79" stroke="#5A78C8" stroke-width="0.55"/><circle cx="0.00" cy="-4.63" r="2.69" fill="#5A83E0" stroke="#2F3F78" stroke-width="0.43"/><circle cx="5.22" cy="0.00" r="2.69" fill="#5A83E0" stroke="#2F3F78" stroke-width="0.43"/><circle cx="0.00" cy="4.63" r="2.69" fill="#5A83E0" stroke="#2F3F78" stroke-width="0.43"/><circle cx="-5.22" cy="0.00" r="2.69" fill="#5A83E0" stroke="#2F3F78" stroke-width="0.43"/></g><g transform="translate(432.40 364.00)"><circle cx="0.00" cy="-6.05" r="4.48" fill="none" stroke="#66678A" stroke-width="0.97" stroke-dasharray="0.62 0.73"/><circle cx="6.05" cy="0.00" r="4.48" fill="none" stroke="#66678A" stroke-width="0.97" stroke-dasharray="0.62 0.73"/><circle cx="0.00" cy="6.05" r="4.48" fill="none" stroke="#66678A" stroke-width="0.97" stroke-dasharray="0.62 0.73"/><circle cx="-6.05" cy="0.00" r="4.48" fill="none" stroke="#66678A" stroke-width="0.97" stroke-dasharray="0.62 0.73"/><circle cx="0.00" cy="-6.05" r="3.86" fill="#5A5D59"/><circle cx="6.05" cy="0.00" r="3.86" fill="#5A5D59"/><circle cx="0.00" cy="6.05" r="3.86" fill="#5A5D59"/><circle cx="-6.05" cy="0.00" r="3.86" fill="#5A5D59"/><circle r="3.14" fill="#5A5D59"/><rect x="-1.79" y="-1.79" width="3.58" height="3.58" fill="#8C93A8" transform="rotate(45)"/><path d="M-1.79 -1.79L1.79 1.79M1.79 -1.79L-1.79 1.79" stroke="#5A78C8" stroke-width="0.55"/><circle cx="0.00" cy="-4.63" r="2.69" fill="#5A83E0" stroke="#2F3F78" stroke-width="0.43"/><circle cx="5.22" cy="0.00" r="2.69" fill="#5A83E0" stroke="#2F3F78" stroke-width="0.43"/><circle cx="0.00" cy="4.63" r="2.69" fill="#5A83E0" stroke="#2F3F78" stroke-width="0.43"/><circle cx="-5.22" cy="0.00" r="2.69" fill="#5A83E0" stroke="#2F3F78" stroke-width="0.43"/></g><g transform="translate(458.00 364.00)"><circle cx="0.00" cy="-6.05" r="4.48" fill="none" stroke="#66678A" stroke-width="0.97" stroke-dasharray="0.62 0.73"/><circle cx="6.05" cy="0.00" r="4.48" fill="none" stroke="#66678A" stroke-width="0.97" stroke-dasharray="0.62 0.73"/><circle cx="0.00" cy="6.05" r="4.48" fill="none" stroke="#66678A" stroke-width="0.97" stroke-dasharray="0.62 0.73"/><circle cx="-6.05" cy="0.00" r="4.48" fill="none" stroke="#66678A" stroke-width="0.97" stroke-dasharray="0.62 0.73"/><circle cx="0.00" cy="-6.05" r="3.86" fill="#5A5D59"/><circle cx="6.05" cy="0.00" r="3.86" fill="#5A5D59"/><circle cx="0.00" cy="6.05" r="3.86" fill="#5A5D59"/><circle cx="-6.05" cy="0.00" r="3.86" fill="#5A5D59"/><circle r="3.14" fill="#5A5D59"/><rect x="-1.79" y="-1.79" width="3.58" height="3.58" fill="#8C93A8" transform="rotate(45)"/><path d="M-1.79 -1.79L1.79 1.79M1.79 -1.79L-1.79 1.79" stroke="#5A78C8" stroke-width="0.55"/><circle cx="0.00" cy="-4.63" r="2.69" fill="#5A83E0" stroke="#2F3F78" stroke-width="0.43"/><circle cx="5.22" cy="0.00" r="2.69" fill="#5A83E0" stroke="#2F3F78" stroke-width="0.43"/><circle cx="0.00" cy="4.63" r="2.69" fill="#5A83E0" stroke="#2F3F78" stroke-width="0.43"/><circle cx="-5.22" cy="0.00" r="2.69" fill="#5A83E0" stroke="#2F3F78" stroke-width="0.43"/></g><g transform="translate(483.80 364.00)"><circle cx="0.00" cy="-6.05" r="4.48" fill="none" stroke="#66678A" stroke-width="0.97" stroke-dasharray="0.62 0.73"/><circle cx="6.05" cy="0.00" r="4.48" fill="none" stroke="#66678A" stroke-width="0.97" stroke-dasharray="0.62 0.73"/><circle cx="0.00" cy="6.05" r="4.48" fill="none" stroke="#66678A" stroke-width="0.97" stroke-dasharray="0.62 0.73"/><circle cx="-6.05" cy="0.00" r="4.48" fill="none" stroke="#66678A" stroke-width="0.97" stroke-dasharray="0.62 0.73"/><circle cx="0.00" cy="-6.05" r="3.86" fill="#5A5D59"/><circle cx="6.05" cy="0.00" r="3.86" fill="#5A5D59"/><circle cx="0.00" cy="6.05" r="3.86" fill="#5A5D59"/><circle cx="-6.05" cy="0.00" r="3.86" fill="#5A5D59"/><circle r="3.14" fill="#5A5D59"/><rect x="-1.79" y="-1.79" width="3.58" height="3.58" fill="#8C93A8" transform="rotate(45)"/><path d="M-1.79 -1.79L1.79 1.79M1.79 -1.79L-1.79 1.79" stroke="#5A78C8" stroke-width="0.55"/><circle cx="0.00" cy="-4.63" r="2.69" fill="#5A83E0" stroke="#2F3F78" stroke-width="0.43"/><circle cx="5.22" cy="0.00" r="2.69" fill="#5A83E0" stroke="#2F3F78" stroke-width="0.43"/><circle cx="0.00" cy="4.63" r="2.69" fill="#5A83E0" stroke="#2F3F78" stroke-width="0.43"/><circle cx="-5.22" cy="0.00" r="2.69" fill="#5A83E0" stroke="#2F3F78" stroke-width="0.43"/></g><path d="M375.8 382.1H488.6" stroke="#C8141A" stroke-width="2.6"/><path d="M387.1 382V375" stroke="#C8141A" stroke-width="1.9"/><path d="M383.70000000000005 376L387.1 369.9L390.5 376Z" fill="#C8141A"/><path d="M416.5 382V375" stroke="#C8141A" stroke-width="1.9"/><path d="M413.1 376L416.5 369.9L419.9 376Z" fill="#C8141A"/><path d="M445.4 382V375" stroke="#C8141A" stroke-width="1.9"/><path d="M442.0 376L445.4 369.9L448.79999999999995 376Z" fill="#C8141A"/><path d="M471.0 382V375" stroke="#C8141A" stroke-width="1.9"/><path d="M467.6 376L471.0 369.9L474.4 376Z" fill="#C8141A"/><text x="435" y="400.7" font-size="11" text-anchor="middle">BPC1</text><path d="M486.9 284.8L503.2 276.6M477.4 294.6L503.2 317.7" stroke="#F3B705" stroke-width="1.7" stroke-linecap="round"/><path d="M502.6 271L517.5 265.4L678.5 266.6Q682 266.8 682 270V371L676.5 380H672L502.6 375.2Z" fill="#DDE3F6"/><path d="M502.6 271L517.5 265.4L678.5 266.6Q682 266.8 682 270L677.4 271.4Z" fill="#A2A8B9"/><path d="M677.4 271.4L681.2 268Q682 269 682 271V371L677.4 379.5Z" fill="#3F434D"/><circle cx="518.3" cy="287.8" r="12.9" fill="url(#sph)"/><ellipse cx="514.04" cy="282.38" rx="2.58" ry="1.94" fill="#fff" opacity="0.75" filter="url(#b1)" transform="rotate(-35 514.04 282.38)"/><circle cx="529.4" cy="326.5" r="11.2" fill="url(#sph)"/><ellipse cx="525.70" cy="321.80" rx="2.24" ry="1.68" fill="#fff" opacity="0.75" filter="url(#b1)" transform="rotate(-35 525.70 321.80)"/><circle cx="522.6" cy="357.3" r="11" fill="url(#sph)"/><ellipse cx="518.97" cy="352.68" rx="2.20" ry="1.65" fill="#fff" opacity="0.75" filter="url(#b1)" transform="rotate(-35 518.97 352.68)"/><circle cx="543.6" cy="300.3" r="9.9" fill="url(#sph)"/><ellipse cx="540.33" cy="296.14" rx="1.98" ry="1.49" fill="#fff" opacity="0.75" filter="url(#b1)" transform="rotate(-35 540.33 296.14)"/><circle cx="552.5" cy="352.3" r="8.9" fill="url(#sph)"/><ellipse cx="549.56" cy="348.56" rx="1.78" ry="1.33" fill="#fff" opacity="0.75" filter="url(#b1)" transform="rotate(-35 549.56 348.56)"/><circle cx="584.4" cy="303.9" r="8.3" fill="url(#sph)"/><ellipse cx="581.66" cy="300.41" rx="1.66" ry="1.25" fill="#fff" opacity="0.75" filter="url(#b1)" transform="rotate(-35 581.66 300.41)"/><circle cx="607.5" cy="304.7" r="10" fill="url(#sph)"/><ellipse cx="604.20" cy="300.50" rx="2.00" ry="1.50" fill="#fff" opacity="0.75" filter="url(#b1)" transform="rotate(-35 604.20 300.50)"/><circle cx="603" cy="334.5" r="7.5" fill="url(#sph)"/><ellipse cx="600.52" cy="331.35" rx="1.50" ry="1.12" fill="#fff" opacity="0.75" filter="url(#b1)" transform="rotate(-35 600.52 331.35)"/><circle cx="646.7" cy="347.6" r="9.5" fill="url(#sph)"/><ellipse cx="643.57" cy="343.61" rx="1.90" ry="1.43" fill="#fff" opacity="0.75" filter="url(#b1)" transform="rotate(-35 643.57 343.61)"/><circle cx="608.8" cy="301.6" r="9" fill="url(#sph)"/><ellipse cx="605.83" cy="297.82" rx="1.80" ry="1.35" fill="#fff" opacity="0.75" filter="url(#b1)" transform="rotate(-35 605.83 297.82)"/><g transform="translate(535.60 290.50)"><path d="M-3.99 -2.30L-0.09 -6.08L3.89 -8.38L7.88 -6.08L3.99 -2.30L0 -4.60Z" fill="#D2BD8C"/><path d="M3.99 -2.30L7.88 -6.08L7.88 -1.48L3.99 2.30Z" fill="#17110A"/><path d="M0 -4.60L3.99 -2.30L3.99 2.30L0 4.60L-3.99 2.30L-3.99 -2.30Z" fill="url(#bng)"/></g><g transform="translate(529.00 300.50)"><path d="M-3.99 -2.30L-0.09 -6.08L3.89 -8.38L7.88 -6.08L3.99 -2.30L0 -4.60Z" fill="#D2BD8C"/><path d="M3.99 -2.30L7.88 -6.08L7.88 -1.48L3.99 2.30Z" fill="#17110A"/><path d="M0 -4.60L3.99 -2.30L3.99 2.30L0 4.60L-3.99 2.30L-3.99 -2.30Z" fill="url(#bng)"/></g><g transform="translate(531.50 308.00)"><path d="M-3.99 -2.30L-0.09 -6.08L3.89 -8.38L7.88 -6.08L3.99 -2.30L0 -4.60Z" fill="#D2BD8C"/><path d="M3.99 -2.30L7.88 -6.08L7.88 -1.48L3.99 2.30Z" fill="#17110A"/><path d="M0 -4.60L3.99 -2.30L3.99 2.30L0 4.60L-3.99 2.30L-3.99 -2.30Z" fill="url(#bng)"/></g><g transform="translate(544.10 327.30)"><path d="M-3.99 -2.30L-0.09 -6.08L3.89 -8.38L7.88 -6.08L3.99 -2.30L0 -4.60Z" fill="#D2BD8C"/><path d="M3.99 -2.30L7.88 -6.08L7.88 -1.48L3.99 2.30Z" fill="#17110A"/><path d="M0 -4.60L3.99 -2.30L3.99 2.30L0 4.60L-3.99 2.30L-3.99 -2.30Z" fill="url(#bng)"/></g><g transform="translate(522.30 342.00)"><path d="M-3.99 -2.30L-0.09 -6.08L3.89 -8.38L7.88 -6.08L3.99 -2.30L0 -4.60Z" fill="#D2BD8C"/><path d="M3.99 -2.30L7.88 -6.08L7.88 -1.48L3.99 2.30Z" fill="#17110A"/><path d="M0 -4.60L3.99 -2.30L3.99 2.30L0 4.60L-3.99 2.30L-3.99 -2.30Z" fill="url(#bng)"/></g><g transform="translate(530.70 346.00)"><path d="M-3.99 -2.30L-0.09 -6.08L3.89 -8.38L7.88 -6.08L3.99 -2.30L0 -4.60Z" fill="#D2BD8C"/><path d="M3.99 -2.30L7.88 -6.08L7.88 -1.48L3.99 2.30Z" fill="#17110A"/><path d="M0 -4.60L3.99 -2.30L3.99 2.30L0 4.60L-3.99 2.30L-3.99 -2.30Z" fill="url(#bng)"/></g><g transform="translate(541.40 338.50)"><path d="M-3.99 -2.30L-0.09 -6.08L3.89 -8.38L7.88 -6.08L3.99 -2.30L0 -4.60Z" fill="#D2BD8C"/><path d="M3.99 -2.30L7.88 -6.08L7.88 -1.48L3.99 2.30Z" fill="#17110A"/><path d="M0 -4.60L3.99 -2.30L3.99 2.30L0 4.60L-3.99 2.30L-3.99 -2.30Z" fill="url(#bng)"/></g><g transform="translate(552.50 336.70)"><path d="M-3.99 -2.30L-0.09 -6.08L3.89 -8.38L7.88 -6.08L3.99 -2.30L0 -4.60Z" fill="#D2BD8C"/><path d="M3.99 -2.30L7.88 -6.08L7.88 -1.48L3.99 2.30Z" fill="#17110A"/><path d="M0 -4.60L3.99 -2.30L3.99 2.30L0 4.60L-3.99 2.30L-3.99 -2.30Z" fill="url(#bng)"/></g><g transform="translate(537.80 355.00)"><path d="M-3.99 -2.30L-0.09 -6.08L3.89 -8.38L7.88 -6.08L3.99 -2.30L0 -4.60Z" fill="#D2BD8C"/><path d="M3.99 -2.30L7.88 -6.08L7.88 -1.48L3.99 2.30Z" fill="#17110A"/><path d="M0 -4.60L3.99 -2.30L3.99 2.30L0 4.60L-3.99 2.30L-3.99 -2.30Z" fill="url(#bng)"/></g><g transform="translate(554.30 366.00)"><path d="M-3.99 -2.30L-0.09 -6.08L3.89 -8.38L7.88 -6.08L3.99 -2.30L0 -4.60Z" fill="#D2BD8C"/><path d="M3.99 -2.30L7.88 -6.08L7.88 -1.48L3.99 2.30Z" fill="#17110A"/><path d="M0 -4.60L3.99 -2.30L3.99 2.30L0 4.60L-3.99 2.30L-3.99 -2.30Z" fill="url(#bng)"/></g><g transform="translate(558.50 340.50)"><path d="M-3.99 -2.30L-0.09 -6.08L3.89 -8.38L7.88 -6.08L3.99 -2.30L0 -4.60Z" fill="#D2BD8C"/><path d="M3.99 -2.30L7.88 -6.08L7.88 -1.48L3.99 2.30Z" fill="#17110A"/><path d="M0 -4.60L3.99 -2.30L3.99 2.30L0 4.60L-3.99 2.30L-3.99 -2.30Z" fill="url(#bng)"/></g><g transform="translate(598.60 286.00)"><path d="M-3.99 -2.30L-0.09 -6.08L3.89 -8.38L7.88 -6.08L3.99 -2.30L0 -4.60Z" fill="#D2BD8C"/><path d="M3.99 -2.30L7.88 -6.08L7.88 -1.48L3.99 2.30Z" fill="#17110A"/><path d="M0 -4.60L3.99 -2.30L3.99 2.30L0 4.60L-3.99 2.30L-3.99 -2.30Z" fill="url(#bng)"/></g><g transform="translate(606.60 291.40)"><path d="M-3.99 -2.30L-0.09 -6.08L3.89 -8.38L7.88 -6.08L3.99 -2.30L0 -4.60Z" fill="#D2BD8C"/><path d="M3.99 -2.30L7.88 -6.08L7.88 -1.48L3.99 2.30Z" fill="#17110A"/><path d="M0 -4.60L3.99 -2.30L3.99 2.30L0 4.60L-3.99 2.30L-3.99 -2.30Z" fill="url(#bng)"/></g><g transform="translate(595.00 295.20)"><path d="M-3.99 -2.30L-0.09 -6.08L3.89 -8.38L7.88 -6.08L3.99 -2.30L0 -4.60Z" fill="#D2BD8C"/><path d="M3.99 -2.30L7.88 -6.08L7.88 -1.48L3.99 2.30Z" fill="#17110A"/><path d="M0 -4.60L3.99 -2.30L3.99 2.30L0 4.60L-3.99 2.30L-3.99 -2.30Z" fill="url(#bng)"/></g><g transform="translate(587.00 290.50)"><path d="M-3.99 -2.30L-0.09 -6.08L3.89 -8.38L7.88 -6.08L3.99 -2.30L0 -4.60Z" fill="#D2BD8C"/><path d="M3.99 -2.30L7.88 -6.08L7.88 -1.48L3.99 2.30Z" fill="#17110A"/><path d="M0 -4.60L3.99 -2.30L3.99 2.30L0 4.60L-3.99 2.30L-3.99 -2.30Z" fill="url(#bng)"/></g><g transform="translate(573.30 297.60)"><path d="M-3.99 -2.30L-0.09 -6.08L3.89 -8.38L7.88 -6.08L3.99 -2.30L0 -4.60Z" fill="#D2BD8C"/><path d="M3.99 -2.30L7.88 -6.08L7.88 -1.48L3.99 2.30Z" fill="#17110A"/><path d="M0 -4.60L3.99 -2.30L3.99 2.30L0 4.60L-3.99 2.30L-3.99 -2.30Z" fill="url(#bng)"/></g><g transform="translate(564.80 293.20)"><path d="M-3.99 -2.30L-0.09 -6.08L3.89 -8.38L7.88 -6.08L3.99 -2.30L0 -4.60Z" fill="#D2BD8C"/><path d="M3.99 -2.30L7.88 -6.08L7.88 -1.48L3.99 2.30Z" fill="#17110A"/><path d="M0 -4.60L3.99 -2.30L3.99 2.30L0 4.60L-3.99 2.30L-3.99 -2.30Z" fill="url(#bng)"/></g><g transform="translate(556.80 300.30)"><path d="M-3.99 -2.30L-0.09 -6.08L3.89 -8.38L7.88 -6.08L3.99 -2.30L0 -4.60Z" fill="#D2BD8C"/><path d="M3.99 -2.30L7.88 -6.08L7.88 -1.48L3.99 2.30Z" fill="#17110A"/><path d="M0 -4.60L3.99 -2.30L3.99 2.30L0 4.60L-3.99 2.30L-3.99 -2.30Z" fill="url(#bng)"/></g><g transform="translate(557.70 339.80)"><path d="M-3.99 -2.30L-0.09 -6.08L3.89 -8.38L7.88 -6.08L3.99 -2.30L0 -4.60Z" fill="#D2BD8C"/><path d="M3.99 -2.30L7.88 -6.08L7.88 -1.48L3.99 2.30Z" fill="#17110A"/><path d="M0 -4.60L3.99 -2.30L3.99 2.30L0 4.60L-3.99 2.30L-3.99 -2.30Z" fill="url(#bng)"/></g><g transform="translate(555.90 365.60)"><path d="M-3.99 -2.30L-0.09 -6.08L3.89 -8.38L7.88 -6.08L3.99 -2.30L0 -4.60Z" fill="#D2BD8C"/><path d="M3.99 -2.30L7.88 -6.08L7.88 -1.48L3.99 2.30Z" fill="#17110A"/><path d="M0 -4.60L3.99 -2.30L3.99 2.30L0 4.60L-3.99 2.30L-3.99 -2.30Z" fill="url(#bng)"/></g><g transform="translate(604.50 282.50)"><path d="M-3.99 -2.30L-0.09 -6.08L3.89 -8.38L7.88 -6.08L3.99 -2.30L0 -4.60Z" fill="#D2BD8C"/><path d="M3.99 -2.30L7.88 -6.08L7.88 -1.48L3.99 2.30Z" fill="#17110A"/><path d="M0 -4.60L3.99 -2.30L3.99 2.30L0 4.60L-3.99 2.30L-3.99 -2.30Z" fill="url(#bng)"/></g><g transform="translate(605.00 292.10)"><path d="M-3.99 -2.30L-0.09 -6.08L3.89 -8.38L7.88 -6.08L3.99 -2.30L0 -4.60Z" fill="#D2BD8C"/><path d="M3.99 -2.30L7.88 -6.08L7.88 -1.48L3.99 2.30Z" fill="#17110A"/><path d="M0 -4.60L3.99 -2.30L3.99 2.30L0 4.60L-3.99 2.30L-3.99 -2.30Z" fill="url(#bng)"/></g><circle cx="570.6" cy="317.2" r="15.6" fill="url(#sph)"/><ellipse cx="565.45" cy="310.65" rx="3.12" ry="2.34" fill="#fff" opacity="0.75" filter="url(#b1)" transform="rotate(-35 565.45 310.65)"/><circle cx="582.4" cy="351.2" r="22" fill="url(#sph)"/><ellipse cx="575.14" cy="341.96" rx="4.40" ry="3.30" fill="#fff" opacity="0.75" filter="url(#b1)" transform="rotate(-35 575.14 341.96)"/><circle cx="656.2" cy="330.4" r="11.3" fill="url(#sph)"/><ellipse cx="652.47" cy="325.65" rx="2.26" ry="1.70" fill="#fff" opacity="0.75" filter="url(#b1)" transform="rotate(-35 652.47 325.65)"/><circle cx="633.5" cy="324.5" r="9.4" fill="url(#sph)"/><ellipse cx="630.40" cy="320.55" rx="1.88" ry="1.41" fill="#fff" opacity="0.75" filter="url(#b1)" transform="rotate(-35 630.40 320.55)"/><circle cx="625.8" cy="292.7" r="15.2" fill="url(#sph)"/><ellipse cx="620.78" cy="286.32" rx="3.04" ry="2.28" fill="#fff" opacity="0.75" filter="url(#b1)" transform="rotate(-35 620.78 286.32)"/><circle cx="654.4" cy="296.5" r="20.1" fill="url(#sph)"/><ellipse cx="647.77" cy="288.06" rx="4.02" ry="3.02" fill="#fff" opacity="0.75" filter="url(#b1)" transform="rotate(-35 647.77 288.06)"/><circle cx="628.4" cy="352" r="16.7" fill="url(#sph)"/><ellipse cx="622.89" cy="344.99" rx="3.34" ry="2.50" fill="#fff" opacity="0.75" filter="url(#b1)" transform="rotate(-35 622.89 344.99)"/><g transform="translate(607.50 347.80)"><path d="M-3.99 -2.30L-0.09 -6.08L3.89 -8.38L7.88 -6.08L3.99 -2.30L0 -4.60Z" fill="#D2BD8C"/><path d="M3.99 -2.30L7.88 -6.08L7.88 -1.48L3.99 2.30Z" fill="#17110A"/><path d="M0 -4.60L3.99 -2.30L3.99 2.30L0 4.60L-3.99 2.30L-3.99 -2.30Z" fill="url(#bng)"/></g><g transform="translate(604.90 361.60)"><path d="M-3.99 -2.30L-0.09 -6.08L3.89 -8.38L7.88 -6.08L3.99 -2.30L0 -4.60Z" fill="#D2BD8C"/><path d="M3.99 -2.30L7.88 -6.08L7.88 -1.48L3.99 2.30Z" fill="#17110A"/><path d="M0 -4.60L3.99 -2.30L3.99 2.30L0 4.60L-3.99 2.30L-3.99 -2.30Z" fill="url(#bng)"/></g><g transform="translate(610.70 370.50)"><path d="M-3.99 -2.30L-0.09 -6.08L3.89 -8.38L7.88 -6.08L3.99 -2.30L0 -4.60Z" fill="#D2BD8C"/><path d="M3.99 -2.30L7.88 -6.08L7.88 -1.48L3.99 2.30Z" fill="#17110A"/><path d="M0 -4.60L3.99 -2.30L3.99 2.30L0 4.60L-3.99 2.30L-3.99 -2.30Z" fill="url(#bng)"/></g><g transform="translate(606.60 325.60)"><path d="M-3.99 -2.30L-0.09 -6.08L3.89 -8.38L7.88 -6.08L3.99 -2.30L0 -4.60Z" fill="#D2BD8C"/><path d="M3.99 -2.30L7.88 -6.08L7.88 -1.48L3.99 2.30Z" fill="#17110A"/><path d="M0 -4.60L3.99 -2.30L3.99 2.30L0 4.60L-3.99 2.30L-3.99 -2.30Z" fill="url(#bng)"/></g><g transform="translate(616.10 332.00)"><path d="M-3.99 -2.30L-0.09 -6.08L3.89 -8.38L7.88 -6.08L3.99 -2.30L0 -4.60Z" fill="#D2BD8C"/><path d="M3.99 -2.30L7.88 -6.08L7.88 -1.48L3.99 2.30Z" fill="#17110A"/><path d="M0 -4.60L3.99 -2.30L3.99 2.30L0 4.60L-3.99 2.30L-3.99 -2.30Z" fill="url(#bng)"/></g><g transform="translate(636.70 336.50)"><path d="M-3.99 -2.30L-0.09 -6.08L3.89 -8.38L7.88 -6.08L3.99 -2.30L0 -4.60Z" fill="#D2BD8C"/><path d="M3.99 -2.30L7.88 -6.08L7.88 -1.48L3.99 2.30Z" fill="#17110A"/><path d="M0 -4.60L3.99 -2.30L3.99 2.30L0 4.60L-3.99 2.30L-3.99 -2.30Z" fill="url(#bng)"/></g><g transform="translate(644.00 364.30)"><path d="M-3.99 -2.30L-0.09 -6.08L3.89 -8.38L7.88 -6.08L3.99 -2.30L0 -4.60Z" fill="#D2BD8C"/><path d="M3.99 -2.30L7.88 -6.08L7.88 -1.48L3.99 2.30Z" fill="#17110A"/><path d="M0 -4.60L3.99 -2.30L3.99 2.30L0 4.60L-3.99 2.30L-3.99 -2.30Z" fill="url(#bng)"/></g><g transform="translate(611.70 369.80)"><path d="M-3.99 -2.30L-0.09 -6.08L3.89 -8.38L7.88 -6.08L3.99 -2.30L0 -4.60Z" fill="#D2BD8C"/><path d="M3.99 -2.30L7.88 -6.08L7.88 -1.48L3.99 2.30Z" fill="#17110A"/><path d="M0 -4.60L3.99 -2.30L3.99 2.30L0 4.60L-3.99 2.30L-3.99 -2.30Z" fill="url(#bng)"/></g><g transform="translate(670.00 319.20)"><path d="M-3.99 -2.30L-0.09 -6.08L3.89 -8.38L7.88 -6.08L3.99 -2.30L0 -4.60Z" fill="#D2BD8C"/><path d="M3.99 -2.30L7.88 -6.08L7.88 -1.48L3.99 2.30Z" fill="#17110A"/><path d="M0 -4.60L3.99 -2.30L3.99 2.30L0 4.60L-3.99 2.30L-3.99 -2.30Z" fill="url(#bng)"/></g><g transform="translate(616.40 330.60)"><path d="M-3.99 -2.30L-0.09 -6.08L3.89 -8.38L7.88 -6.08L3.99 -2.30L0 -4.60Z" fill="#D2BD8C"/><path d="M3.99 -2.30L7.88 -6.08L7.88 -1.48L3.99 2.30Z" fill="#17110A"/><path d="M0 -4.60L3.99 -2.30L3.99 2.30L0 4.60L-3.99 2.30L-3.99 -2.30Z" fill="url(#bng)"/></g><g transform="translate(605.70 325.50)"><path d="M-3.99 -2.30L-0.09 -6.08L3.89 -8.38L7.88 -6.08L3.99 -2.30L0 -4.60Z" fill="#D2BD8C"/><path d="M3.99 -2.30L7.88 -6.08L7.88 -1.48L3.99 2.30Z" fill="#17110A"/><path d="M0 -4.60L3.99 -2.30L3.99 2.30L0 4.60L-3.99 2.30L-3.99 -2.30Z" fill="url(#bng)"/></g><g transform="translate(607.00 345.70)"><path d="M-3.99 -2.30L-0.09 -6.08L3.89 -8.38L7.88 -6.08L3.99 -2.30L0 -4.60Z" fill="#D2BD8C"/><path d="M3.99 -2.30L7.88 -6.08L7.88 -1.48L3.99 2.30Z" fill="#17110A"/><path d="M0 -4.60L3.99 -2.30L3.99 2.30L0 4.60L-3.99 2.30L-3.99 -2.30Z" fill="url(#bng)"/></g><g transform="translate(612.00 312.00)"><path d="M-3.99 -2.30L-0.09 -6.08L3.89 -8.38L7.88 -6.08L3.99 -2.30L0 -4.60Z" fill="#D2BD8C"/><path d="M3.99 -2.30L7.88 -6.08L7.88 -1.48L3.99 2.30Z" fill="#17110A"/><path d="M0 -4.60L3.99 -2.30L3.99 2.30L0 4.60L-3.99 2.30L-3.99 -2.30Z" fill="url(#bng)"/></g><g transform="translate(597.00 318.00)"><path d="M-3.99 -2.30L-0.09 -6.08L3.89 -8.38L7.88 -6.08L3.99 -2.30L0 -4.60Z" fill="#D2BD8C"/><path d="M3.99 -2.30L7.88 -6.08L7.88 -1.48L3.99 2.30Z" fill="#17110A"/><path d="M0 -4.60L3.99 -2.30L3.99 2.30L0 4.60L-3.99 2.30L-3.99 -2.30Z" fill="url(#bng)"/></g><g filter="url(#glow)" opacity="0.75"><path d="M511.3 277.0C511.6 278.1 512.3 280.6 513.4 283.4C514.5 286.2 515.6 290.0 517.8 294.0C520.0 298.0 523.7 303.5 526.7 307.4C529.7 311.3 532.6 314.8 535.6 317.2C538.6 319.6 541.8 320.5 545.0 321.6C548.2 322.7 550.8 322.9 555.0 323.8C559.2 324.8 565.7 325.7 570.0 327.3C574.3 328.9 577.4 330.6 580.8 333.6C584.2 336.6 587.8 340.9 590.6 345.2C593.4 349.5 595.9 355.1 597.7 359.4C599.5 363.7 600.9 367.9 601.6 371.0C602.4 374.1 602.1 376.8 602.2 378.0" fill="none" stroke="#FB9058" stroke-width="7.2" stroke-linecap="round"/><path d="M570.9 277.0C570.5 278.8 569.6 284.1 568.4 287.8C567.2 291.5 565.4 296.0 563.9 299.4C562.4 302.8 561.1 305.8 559.5 308.3C557.9 310.8 556.4 312.8 554.5 314.5C552.6 316.2 550.4 317.2 548.0 318.3C545.6 319.4 542.7 319.9 540.0 320.8C537.3 321.7 534.3 322.3 532.0 323.5C529.7 324.7 527.7 326.3 526.0 327.8C524.3 329.3 523.4 330.6 522.0 332.3C520.6 334.0 519.1 335.7 517.8 338.0C516.5 340.3 515.0 343.5 514.0 346.0C513.0 348.5 512.2 350.5 511.6 353.2C511.0 355.9 510.5 358.9 510.2 362.0C509.9 365.1 509.9 370.3 509.8 372.0" fill="none" stroke="#FB9058" stroke-width="7.2" stroke-linecap="round"/><path d="M588.0 277.0C588.1 278.2 587.9 281.2 588.5 284.3C589.1 287.4 590.4 292.5 591.5 295.8C592.6 299.1 593.5 301.1 595.0 303.9C596.5 306.7 598.6 310.3 600.4 312.8C602.1 315.3 603.5 317.3 605.5 319.0C607.5 320.7 610.1 321.6 612.5 322.8C614.9 324.0 617.6 323.9 620.0 326.0C622.4 328.1 624.7 331.8 626.7 335.4C628.8 339.0 630.8 343.3 632.3 347.6C633.8 351.9 634.9 356.6 635.6 361.0C636.3 365.4 636.5 371.8 636.7 374.0" fill="none" stroke="#FB9058" stroke-width="7.2" stroke-linecap="round"/><path d="M638.4 277.0C638.1 278.8 637.4 284.2 636.6 287.7C635.8 291.2 635.0 294.4 633.4 297.8C631.8 301.2 629.5 305.0 627.1 307.9C624.7 310.8 622.0 313.3 618.9 315.4C615.8 317.5 611.9 319.3 608.8 320.5C605.6 321.7 603.0 321.4 600.0 322.8C597.0 324.2 593.5 326.2 590.6 329.0C587.7 331.8 584.8 335.8 582.6 339.8C580.4 343.8 578.7 348.4 577.3 353.2C575.9 357.9 574.7 364.7 574.1 368.3C573.5 371.9 573.8 373.9 573.7 375.0" fill="none" stroke="#FB9058" stroke-width="7.2" stroke-linecap="round"/><path d="M670.6 277.0C670.5 279.2 670.4 285.9 670.0 290.2C669.6 294.5 669.1 298.6 668.1 302.8C667.1 307.0 666.0 311.8 664.3 315.4C662.6 319.0 659.9 321.0 658.0 324.5C656.1 328.0 654.0 332.1 652.8 336.5C651.6 340.9 651.1 346.4 650.6 351.0C650.1 355.6 649.7 360.5 649.5 364.3C649.3 368.1 649.5 372.4 649.5 374.0" fill="none" stroke="#FB9058" stroke-width="7.2" stroke-linecap="round"/><path d="M503.1 280.3L510.3 264.8L517.5 280.3Z" fill="#FB9058" transform="rotate(-6 510.3 273.3)"/><path d="M563.8 280.3L571 264.8L578.2 280.3Z" fill="#FB9058" transform="rotate(5 571 273.3)"/><path d="M580.8 280.8L588 265.3L595.2 280.8Z" fill="#FB9058" transform="rotate(-1 588 273.8)"/><path d="M631.3 280.2L638.5 264.7L645.7 280.2Z" fill="#FB9058" transform="rotate(4 638.5 273.2)"/><path d="M663.4 280.4L670.6 264.9L677.8000000000001 280.4Z" fill="#FB9058" transform="rotate(0 670.6 273.4)"/></g><path d="M511.3 277.0C511.6 278.1 512.3 280.6 513.4 283.4C514.5 286.2 515.6 290.0 517.8 294.0C520.0 298.0 523.7 303.5 526.7 307.4C529.7 311.3 532.6 314.8 535.6 317.2C538.6 319.6 541.8 320.5 545.0 321.6C548.2 322.7 550.8 322.9 555.0 323.8C559.2 324.8 565.7 325.7 570.0 327.3C574.3 328.9 577.4 330.6 580.8 333.6C584.2 336.6 587.8 340.9 590.6 345.2C593.4 349.5 595.9 355.1 597.7 359.4C599.5 363.7 600.9 367.9 601.6 371.0C602.4 374.1 602.1 376.8 602.2 378.0" fill="none" stroke="#D01010" stroke-width="3.5" stroke-dasharray="7.3 2.6" stroke-dashoffset="5"/><path d="M570.9 277.0C570.5 278.8 569.6 284.1 568.4 287.8C567.2 291.5 565.4 296.0 563.9 299.4C562.4 302.8 561.1 305.8 559.5 308.3C557.9 310.8 556.4 312.8 554.5 314.5C552.6 316.2 550.4 317.2 548.0 318.3C545.6 319.4 542.7 319.9 540.0 320.8C537.3 321.7 534.3 322.3 532.0 323.5C529.7 324.7 527.7 326.3 526.0 327.8C524.3 329.3 523.4 330.6 522.0 332.3C520.6 334.0 519.1 335.7 517.8 338.0C516.5 340.3 515.0 343.5 514.0 346.0C513.0 348.5 512.2 350.5 511.6 353.2C511.0 355.9 510.5 358.9 510.2 362.0C509.9 365.1 509.9 370.3 509.8 372.0" fill="none" stroke="#D01010" stroke-width="3.5" stroke-dasharray="7.3 2.6" stroke-dashoffset="5"/><path d="M588.0 277.0C588.1 278.2 587.9 281.2 588.5 284.3C589.1 287.4 590.4 292.5 591.5 295.8C592.6 299.1 593.5 301.1 595.0 303.9C596.5 306.7 598.6 310.3 600.4 312.8C602.1 315.3 603.5 317.3 605.5 319.0C607.5 320.7 610.1 321.6 612.5 322.8C614.9 324.0 617.6 323.9 620.0 326.0C622.4 328.1 624.7 331.8 626.7 335.4C628.8 339.0 630.8 343.3 632.3 347.6C633.8 351.9 634.9 356.6 635.6 361.0C636.3 365.4 636.5 371.8 636.7 374.0" fill="none" stroke="#D01010" stroke-width="3.5" stroke-dasharray="7.3 2.6" stroke-dashoffset="5"/><path d="M638.4 277.0C638.1 278.8 637.4 284.2 636.6 287.7C635.8 291.2 635.0 294.4 633.4 297.8C631.8 301.2 629.5 305.0 627.1 307.9C624.7 310.8 622.0 313.3 618.9 315.4C615.8 317.5 611.9 319.3 608.8 320.5C605.6 321.7 603.0 321.4 600.0 322.8C597.0 324.2 593.5 326.2 590.6 329.0C587.7 331.8 584.8 335.8 582.6 339.8C580.4 343.8 578.7 348.4 577.3 353.2C575.9 357.9 574.7 364.7 574.1 368.3C573.5 371.9 573.8 373.9 573.7 375.0" fill="none" stroke="#D01010" stroke-width="3.5" stroke-dasharray="7.3 2.6" stroke-dashoffset="5"/><path d="M670.6 277.0C670.5 279.2 670.4 285.9 670.0 290.2C669.6 294.5 669.1 298.6 668.1 302.8C667.1 307.0 666.0 311.8 664.3 315.4C662.6 319.0 659.9 321.0 658.0 324.5C656.1 328.0 654.0 332.1 652.8 336.5C651.6 340.9 651.1 346.4 650.6 351.0C650.1 355.6 649.7 360.5 649.5 364.3C649.3 368.1 649.5 372.4 649.5 374.0" fill="none" stroke="#D01010" stroke-width="3.5" stroke-dasharray="7.3 2.6" stroke-dashoffset="5"/><path d="M505.2 278.3L510.3 268.3L515.4 278.3Z" fill="#D01010" transform="rotate(-6 510.3 273.3)"/><path d="M565.9 278.3L571 268.3L576.1 278.3Z" fill="#D01010" transform="rotate(5 571 273.3)"/><path d="M582.9 278.8L588 268.8L593.1 278.8Z" fill="#D01010" transform="rotate(-1 588 273.8)"/><path d="M633.4 278.2L638.5 268.2L643.6 278.2Z" fill="#D01010" transform="rotate(4 638.5 273.2)"/><path d="M665.5 278.4L670.6 268.4L675.7 278.4Z" fill="#D01010" transform="rotate(0 670.6 273.4)"/><rect x="515.6" y="382.5" width="17" height="9.6" fill="#DDE3F6" stroke="#C5C9D6" stroke-width="0.5"/><text x="536.3" y="391.9" font-size="8.6">Epoxy resin</text><circle cx="629.8" cy="388.4" r="4.4" fill="url(#sphs)"/><text x="637.6" y="392.4" font-size="8.6">AlN</text><g transform="translate(524.30 404.20)"><path d="M-2.70 -1.56L-0.06 -4.12L2.64 -5.68L5.34 -4.12L2.70 -1.56L0 -3.12Z" fill="#D2BD8C"/><path d="M2.70 -1.56L5.34 -4.12L5.34 -1.00L2.70 1.56Z" fill="#17110A"/><path d="M0 -3.12L2.70 -1.56L2.70 1.56L0 3.12L-2.70 1.56L-2.70 -1.56Z" fill="url(#bng)"/></g><text x="530.8" y="407.7" font-size="8.6">BN</text><g filter="url(#b1)"><path d="M570.5 404.6H596" stroke="#FFB08A" stroke-width="5.5" stroke-linecap="round"/></g><path d="M572 404.6H587.5" stroke="#CC1212" stroke-width="2.6" stroke-dasharray="2.6 1.6"/><path d="M587.5 400.6L595 404.6L587.5 408.6Z" fill="#CC1212"/><text x="599.7" y="407.8" font-size="8.7" style="fill:#BE1220">Heat flow path</text></g>

<g id="panelf"><defs>
<linearGradient id="fbg" x1="0" y1="0" x2="0" y2="1"><stop offset="0" stop-color="#FFFFFF"/><stop offset="0.12" stop-color="#F6FBF5"/><stop offset="0.5" stop-color="#D9EED9"/><stop offset="1" stop-color="#D3ECE4"/></linearGradient>
<linearGradient id="bam" x1="0" y1="0" x2="1" y2="0"><stop offset="0" stop-color="#F6D484"/><stop offset="0.25" stop-color="#FADD98"/><stop offset="0.5" stop-color="#F6D283"/><stop offset="0.75" stop-color="#FADE9A"/><stop offset="1" stop-color="#F4CF7E"/></linearGradient>
<linearGradient id="wood" x1="0" y1="1" x2="1" y2="0"><stop offset="0" stop-color="#DD9444"/><stop offset="0.5" stop-color="#D28636"/><stop offset="1" stop-color="#B96A24"/></linearGradient>
<linearGradient id="arr" x1="0" y1="0" x2="0" y2="1"><stop offset="0" stop-color="#EC1F2B"/><stop offset="0.4" stop-color="#F4424B"/><stop offset="1" stop-color="#FFA6AA"/></linearGradient>
<linearGradient id="deck" x1="0" y1="0" x2="1" y2="1"><stop offset="0" stop-color="#8F897D"/><stop offset="0.6" stop-color="#A8A193"/><stop offset="1" stop-color="#B9B3A6"/></linearGradient>
<filter id="ag" x="-30%" y="-30%" width="160%" height="160%"><feGaussianBlur stdDeviation="1.6"/></filter>
<clipPath id="phclip"><rect x="427.7" y="447.1" width="59.5" height="105.5" rx="8.8"/></clipPath>
<clipPath id="flclip"><rect x="427.3" y="560.5" width="228.1" height="71.9"/></clipPath>
<clipPath id="lidclip"><path d="M547.6 447.6L625.5 473.9L599.6 546.7L522.5 514.8Z"/></clipPath>
</defs><rect x="398.3" y="442.5" width="276.6" height="203.4" rx="6" fill="url(#fbg)"/><path d="M417.1 442.5H664" stroke="#2F5A1C" stroke-width="2" stroke-dasharray="7.6 4.98" fill="none"/><path d="M413.7 645.9H661" stroke="#2F5A1C" stroke-width="2" stroke-dasharray="7.6 4.98" fill="none"/><path d="M398.3 450.7V625" stroke="#2F5A1C" stroke-width="1.7" stroke-dasharray="10.8 7.15" fill="none"/><path d="M674.9 460.5V634" stroke="#2F5A1C" stroke-width="1.7" stroke-dasharray="10.8 7.15" fill="none"/><path d="M398.3 447.5Q398.3 442.5 404.3 442.5H409.4M667.8 442.5H669Q674.9 442.5 674.9 448.5V454M674.9 634.6V640Q674.9 645.9 669 645.9H665.3M407.2 645.9H404.3Q398.3 645.9 398.3 640V630.2" stroke="#2F5A1C" stroke-width="1.85" fill="none"/><rect x="427.7" y="447.1" width="59.5" height="105.5" rx="8.8" fill="url(#bam)"/><g clip-path="url(#phclip)"><path d="M447.1 442.9V548.6" stroke="#FCE6AA" stroke-width="2.2" opacity="0.32" stroke-linecap="round"/><path d="M433.6 452.9V499.8" stroke="#F0C670" stroke-width="4.0" opacity="0.32" stroke-linecap="round"/><path d="M452.7 465.5V571.6" stroke="#FCE6AA" stroke-width="1.1" opacity="0.32" stroke-linecap="round"/><path d="M435.3 475.0V519.9" stroke="#FCE6AA" stroke-width="3.0" opacity="0.32" stroke-linecap="round"/><path d="M462.5 442.8V551.5" stroke="#F0C670" stroke-width="4.2" opacity="0.32" stroke-linecap="round"/><path d="M445.1 474.3V559.1" stroke="#FCE6AA" stroke-width="2.7" opacity="0.32" stroke-linecap="round"/><path d="M468.2 478.3V548.1" stroke="#F0C670" stroke-width="2.8" opacity="0.32" stroke-linecap="round"/><path d="M460.3 477.1V556.9" stroke="#F0C670" stroke-width="2.8" opacity="0.32" stroke-linecap="round"/><path d="M459.4 495.4V564.3" stroke="#F2CA78" stroke-width="2.4" opacity="0.32" stroke-linecap="round"/><path d="M442.7 454.6V540.6" stroke="#FCE6AA" stroke-width="3.2" opacity="0.32" stroke-linecap="round"/><path d="M459.0 457.3V575.7" stroke="#F2CA78" stroke-width="3.4" opacity="0.32" stroke-linecap="round"/><path d="M435.0 460.5V575.2" stroke="#FBE1A0" stroke-width="1.4" opacity="0.32" stroke-linecap="round"/><path d="M452.9 474.4V584.4" stroke="#F0C670" stroke-width="3.5" opacity="0.32" stroke-linecap="round"/><path d="M446.5 474.8V551.3" stroke="#F2CA78" stroke-width="2.9" opacity="0.32" stroke-linecap="round"/><path d="M477.6 479.8V524.7" stroke="#F2CA78" stroke-width="2.5" opacity="0.32" stroke-linecap="round"/><path d="M469.4 463.1V556.6" stroke="#FBE1A0" stroke-width="1.8" opacity="0.32" stroke-linecap="round"/><path d="M429.3 476.7V556.2" stroke="#FBE1A0" stroke-width="2.0" opacity="0.32" stroke-linecap="round"/><path d="M440.9 454.9V526.1" stroke="#F2CA78" stroke-width="1.3" opacity="0.32" stroke-linecap="round"/><path d="M479.4 464.1V526.3" stroke="#F0C670" stroke-width="1.4" opacity="0.32" stroke-linecap="round"/><path d="M436.1 456.7V529.9" stroke="#FBE1A0" stroke-width="3.8" opacity="0.32" stroke-linecap="round"/><path d="M449.2 449.1V503.2" stroke="#FBE1A0" stroke-width="4.2" opacity="0.32" stroke-linecap="round"/><path d="M441.7 489.9V544.5" stroke="#FCE6AA" stroke-width="0.8" opacity="0.32" stroke-linecap="round"/><path d="M444.6 462.2V547.5" stroke="#FCE6AA" stroke-width="2.3" opacity="0.32" stroke-linecap="round"/><path d="M484.2 492.3V608.4" stroke="#F0C670" stroke-width="2.4" opacity="0.32" stroke-linecap="round"/><path d="M468.2 463.6V542.2" stroke="#FBE1A0" stroke-width="2.2" opacity="0.32" stroke-linecap="round"/><path d="M451.6 452.5V505.5" stroke="#FCE6AA" stroke-width="1.0" opacity="0.32" stroke-linecap="round"/></g><rect x="427.7" y="447.1" width="59.5" height="105.5" rx="8.8" fill="none" stroke="#151515" stroke-width="1.2"/><rect x="432.1" y="454" width="19" height="16.8" rx="3.2" fill="#fff" stroke="#151515" stroke-width="1.1"/><path d="M522.7 514.8L523.6 519L540 528.8L558.8 538L597.8 554.9L655.4 525.6L655.1 522.4L614.6 508.2Z" fill="#1F1F21"/><path d="M614.6 508.2L655.1 522.5L601.6 548.3L597 545Z" fill="url(#deck)"/><path d="M611 509.4L629.5 516.2L625.5 518.6L608.5 512.4Z" fill="#5F5B53"/><path d="M608.5 517.6L631.8 528.6L606.8 541.2L601.5 537.5Z" fill="#38393E"/><path d="M606.5 522L626 531.4M605 526.2L620.5 534.2M603.8 530.3L614.5 537.2" stroke="#5A5C63" stroke-width="0.7" fill="none"/><path d="M554.8 533.6L559.6 535.8M569 539L572 540.4" stroke="#E8E8E8" stroke-width="1.1"/><path d="M636.5 536.6L641.5 534.2" stroke="#8A8A8A" stroke-width="0.8"/><path d="M547.6 447.6L625.5 473.9L599.6 546.7L522.5 514.8Z" fill="#F6D486"/><g clip-path="url(#lidclip)"><path d="M573.4 458.4L565.8 479.1" stroke="#FCE6AA" stroke-width="2.9" opacity="0.32" stroke-linecap="round"/><path d="M613.6 494.8L604.9 519.1" stroke="#FCE6AA" stroke-width="3.3" opacity="0.32" stroke-linecap="round"/><path d="M556.0 460.1L544.0 492.3" stroke="#F2CA78" stroke-width="2.7" opacity="0.32" stroke-linecap="round"/><path d="M550.4 467.2L530.6 520.7" stroke="#FBE1A0" stroke-width="2.7" opacity="0.32" stroke-linecap="round"/><path d="M553.0 453.3L541.1 485.2" stroke="#F2CA78" stroke-width="2.7" opacity="0.32" stroke-linecap="round"/><path d="M594.9 484.2L584.6 512.8" stroke="#F2CA78" stroke-width="1.4" opacity="0.32" stroke-linecap="round"/><path d="M589.6 462.8L575.2 502.5" stroke="#F0C670" stroke-width="3.6" opacity="0.32" stroke-linecap="round"/><path d="M563.3 467.1L553.6 493.4" stroke="#FCE6AA" stroke-width="2.9" opacity="0.32" stroke-linecap="round"/><path d="M604.0 479.9L593.5 509.3" stroke="#FCE6AA" stroke-width="4.0" opacity="0.32" stroke-linecap="round"/><path d="M601.8 495.7L591.2 525.3" stroke="#FBE1A0" stroke-width="2.2" opacity="0.32" stroke-linecap="round"/><path d="M549.5 449.3L538.5 478.9" stroke="#F2CA78" stroke-width="1.6" opacity="0.32" stroke-linecap="round"/><path d="M590.3 475.7L572.3 525.4" stroke="#F2CA78" stroke-width="4.6" opacity="0.32" stroke-linecap="round"/><path d="M573.2 464.8L562.7 493.4" stroke="#FCE6AA" stroke-width="2.2" opacity="0.32" stroke-linecap="round"/><path d="M572.6 494.7L557.2 537.0" stroke="#F0C670" stroke-width="2.7" opacity="0.32" stroke-linecap="round"/><path d="M588.2 493.1L579.4 517.4" stroke="#F0C670" stroke-width="4.4" opacity="0.32" stroke-linecap="round"/><path d="M598.9 495.0L585.0 533.6" stroke="#FCE6AA" stroke-width="2.5" opacity="0.32" stroke-linecap="round"/><path d="M596.0 467.4L576.2 522.1" stroke="#FBE1A0" stroke-width="2.7" opacity="0.32" stroke-linecap="round"/><path d="M604.4 470.2L594.7 497.3" stroke="#FCE6AA" stroke-width="0.9" opacity="0.32" stroke-linecap="round"/><path d="M587.7 479.5L571.6 523.8" stroke="#FBE1A0" stroke-width="3.4" opacity="0.32" stroke-linecap="round"/><path d="M567.9 475.8L558.7 501.1" stroke="#F0C670" stroke-width="4.0" opacity="0.32" stroke-linecap="round"/><path d="M602.9 470.4L585.5 518.5" stroke="#FCE6AA" stroke-width="2.5" opacity="0.32" stroke-linecap="round"/><path d="M604.9 500.3L594.4 529.5" stroke="#F2CA78" stroke-width="1.7" opacity="0.32" stroke-linecap="round"/></g><path d="M625.5 473.9L599.6 546.7" stroke="#222" stroke-width="1.4"/><path d="M522.5 514.8L599.6 546.7" stroke="#3a3020" stroke-width="0.6"/><circle cx="599.6" cy="548.6" r="0.9" fill="#E8E8E8"/><rect x="427.3" y="560.5" width="228.1" height="71.9" fill="#838388"/><g clip-path="url(#flclip)"><path d="M541.3 620.1l11.2 0.5" stroke="#6A6A70" stroke-width="1.2" opacity="0.55" stroke-linecap="round"/><path d="M595.2 626.3l16.6 3.8" stroke="#9C9CA4" stroke-width="2.1" opacity="0.55" stroke-linecap="round"/><path d="M635.4 608.1l14.5 0.3" stroke="#A5A5AC" stroke-width="3.3" opacity="0.55" stroke-linecap="round"/><path d="M603.5 613.0l18.4 -4.2" stroke="#6A6A70" stroke-width="2.2" opacity="0.55" stroke-linecap="round"/><path d="M591.9 610.6l11.2 0.2" stroke="#9C9CA4" stroke-width="2.3" opacity="0.55" stroke-linecap="round"/><path d="M603.5 625.6l6.9 -3.7" stroke="#A5A5AC" stroke-width="3.0" opacity="0.55" stroke-linecap="round"/><path d="M542.7 610.8l18.2 4.9" stroke="#74747A" stroke-width="1.8" opacity="0.55" stroke-linecap="round"/><path d="M648.0 612.9l9.2 -2.7" stroke="#9C9CA4" stroke-width="2.4" opacity="0.55" stroke-linecap="round"/><path d="M536.0 628.3l17.2 4.5" stroke="#BDBDC6" stroke-width="3.4" opacity="0.55" stroke-linecap="round"/><path d="M629.8 594.3l13.2 -1.0" stroke="#74747A" stroke-width="2.1" opacity="0.55" stroke-linecap="round"/><path d="M444.4 596.1l7.2 2.0" stroke="#A5A5AC" stroke-width="3.3" opacity="0.55" stroke-linecap="round"/><path d="M462.9 617.9l16.6 -4.3" stroke="#6A6A70" stroke-width="3.5" opacity="0.55" stroke-linecap="round"/><path d="M477.6 628.8l12.4 -0.2" stroke="#6A6A70" stroke-width="1.4" opacity="0.55" stroke-linecap="round"/><path d="M525.5 608.7l11.4 -3.7" stroke="#BDBDC6" stroke-width="1.2" opacity="0.55" stroke-linecap="round"/><path d="M510.7 600.5l13.3 2.4" stroke="#74747A" stroke-width="1.9" opacity="0.55" stroke-linecap="round"/><path d="M569.0 608.6l7.0 5.8" stroke="#6A6A70" stroke-width="3.5" opacity="0.55" stroke-linecap="round"/><path d="M451.7 597.2l6.6 3.3" stroke="#BDBDC6" stroke-width="3.0" opacity="0.55" stroke-linecap="round"/><path d="M613.3 624.1l16.8 5.4" stroke="#74747A" stroke-width="1.4" opacity="0.55" stroke-linecap="round"/><path d="M635.7 611.2l17.2 -4.9" stroke="#A5A5AC" stroke-width="3.1" opacity="0.55" stroke-linecap="round"/><path d="M469.4 626.2l10.3 -5.8" stroke="#A5A5AC" stroke-width="3.1" opacity="0.55" stroke-linecap="round"/><path d="M446.9 624.4l7.1 4.4" stroke="#74747A" stroke-width="1.0" opacity="0.55" stroke-linecap="round"/><path d="M652.7 604.2l20.6 1.5" stroke="#A5A5AC" stroke-width="2.4" opacity="0.55" stroke-linecap="round"/><path d="M481.9 590.0l8.6 -5.4" stroke="#6A6A70" stroke-width="3.4" opacity="0.55" stroke-linecap="round"/><path d="M570.1 609.4l9.3 -0.7" stroke="#6A6A70" stroke-width="1.7" opacity="0.55" stroke-linecap="round"/><path d="M609.6 630.7l6.6 -5.8" stroke="#9C9CA4" stroke-width="2.4" opacity="0.55" stroke-linecap="round"/><path d="M470.8 606.8l21.0 -4.7" stroke="#74747A" stroke-width="2.7" opacity="0.55" stroke-linecap="round"/><path d="M551.4 625.9l21.5 -2.3" stroke="#6A6A70" stroke-width="3.6" opacity="0.55" stroke-linecap="round"/><path d="M505.5 623.3l17.3 1.6" stroke="#74747A" stroke-width="3.6" opacity="0.55" stroke-linecap="round"/><path d="M649.9 623.5l6.2 1.5" stroke="#BDBDC6" stroke-width="2.1" opacity="0.55" stroke-linecap="round"/><path d="M440.5 615.6l12.1 0.1" stroke="#BDBDC6" stroke-width="2.6" opacity="0.55" stroke-linecap="round"/><path d="M584.5 587.1l9.0 -2.8" stroke="#A5A5AC" stroke-width="1.7" opacity="0.55" stroke-linecap="round"/><path d="M645.4 629.7l14.8 -3.1" stroke="#BDBDC6" stroke-width="1.6" opacity="0.55" stroke-linecap="round"/><path d="M469.3 600.4l7.3 -2.7" stroke="#6A6A70" stroke-width="1.6" opacity="0.55" stroke-linecap="round"/><path d="M603.4 589.2l19.1 -4.3" stroke="#9C9CA4" stroke-width="1.1" opacity="0.55" stroke-linecap="round"/><path d="M433.1 599.0l9.7 1.0" stroke="#9C9CA4" stroke-width="3.2" opacity="0.55" stroke-linecap="round"/><path d="M463.1 626.1l18.5 1.2" stroke="#BDBDC6" stroke-width="2.9" opacity="0.55" stroke-linecap="round"/><path d="M539.7 598.1l15.9 -4.3" stroke="#9C9CA4" stroke-width="2.6" opacity="0.55" stroke-linecap="round"/><path d="M593.9 622.4l8.2 0.3" stroke="#9C9CA4" stroke-width="2.5" opacity="0.55" stroke-linecap="round"/><path d="M611.7 585.7l17.0 3.6" stroke="#6A6A70" stroke-width="1.2" opacity="0.55" stroke-linecap="round"/><path d="M437.5 614.3l21.4 -1.5" stroke="#74747A" stroke-width="2.5" opacity="0.55" stroke-linecap="round"/><path d="M427 599.7H606C616 599.5 621.5 596 621.3 589C621 584 619 581 616 579" fill="none" stroke="#DD5527" stroke-width="2.1"/><path d="M427 609.6H622C638 609 647.5 604 647 594C646.5 588 643 585.5 638 584" fill="none" stroke="#DD5527" stroke-width="2.1"/><path d="M427 620.6L656 622.2" fill="none" stroke="#DD5527" stroke-width="2.1"/><path d="M427 631.2H656" fill="none" stroke="#DD5527" stroke-width="2.1"/><path d="M589 588L610.5 633" stroke="#D3DAE3" stroke-width="1.7"/><path d="M427.3 560.5H655.4V581L652 585.7L615.3 578.7L561.9 597.6L529.5 589.7L489.3 615.2L427.3 609.7Z" fill="url(#wood)"/><polygon points="471.4,561.1 491.6,561.1 428.5,607.6 428.5,592.7" fill="#F0A858" opacity="0.35"/><polygon points="507.3,561.1 519.6,561.1 475.8,613.7 458.3,611.9" fill="#E8A050" opacity="0.3"/><polygon points="530.1,561.1 538.5,561.1 514,600 489.8,614.6" fill="#A85A1C" opacity="0.25"/><polygon points="553.5,561.1 562.8,561.1 566.3,596.2 554,594" fill="#E8A050" opacity="0.3"/><polygon points="583,561 592.6,561 610,581.3 597.8,586.5" fill="#A85A1C" opacity="0.22"/><polygon points="613.6,561 624,561 645,583.8 634.6,582" fill="#E09848" opacity="0.28"/><path d="M427.3 609.7L489.3 615.2L529.5 589.7L561.9 597.6L615.3 578.7L652 585.7L655.4 581" fill="none" stroke="#2b1c10" stroke-width="1.2"/><path d="M452.6 558.6L425.4 580.3" stroke="#7A3F12" stroke-width="0.55" opacity="0.6"/><path d="M477.8 556.4L422.1 597.4" stroke="#7A3F12" stroke-width="0.55" opacity="0.6"/><path d="M501.1 554.1L419.0 614.6" stroke="#7A3F12" stroke-width="0.55" opacity="0.6"/><path d="M514.6 553.5L450.9 619.5" stroke="#7A3F12" stroke-width="0.55" opacity="0.6"/><path d="M526.2 553.2L469.2 621.6" stroke="#7A3F12" stroke-width="0.55" opacity="0.6"/><path d="M536.1 553.1L483.8 622.6" stroke="#7A3F12" stroke-width="0.55" opacity="0.6"/><path d="M542.2 555.3L510.3 605.8" stroke="#7A3F12" stroke-width="0.55" opacity="0.6"/><path d="M545.7 556.8L542.2 594.3" stroke="#7A3F12" stroke-width="0.55" opacity="0.6"/><path d="M553.4 556.2L554.1 598.9" stroke="#7A3F12" stroke-width="0.55" opacity="0.6"/><path d="M562.3 555.8L566.8 601.5" stroke="#7A3F12" stroke-width="0.55" opacity="0.6"/><path d="M572.0 556.6L583.3 594.4" stroke="#7A3F12" stroke-width="0.55" opacity="0.6"/><path d="M580.8 557.2L600.0 590.3" stroke="#7A3F12" stroke-width="0.55" opacity="0.6"/><path d="M590.0 558.0L612.6 584.3" stroke="#7A3F12" stroke-width="0.55" opacity="0.6"/><path d="M600.1 558.2L625.2 582.3" stroke="#7A3F12" stroke-width="0.55" opacity="0.6"/><path d="M610.5 557.9L637.8 585.1" stroke="#7A3F12" stroke-width="0.55" opacity="0.6"/><path d="M620.9 557.6L648.1 587.2" stroke="#7A3F12" stroke-width="0.55" opacity="0.6"/><path d="M631.6 558.5L657.8 580.2" stroke="#7A3F12" stroke-width="0.55" opacity="0.6"/><path d="M643.5 559.8L656.3 570.2" stroke="#7A3F12" stroke-width="0.55" opacity="0.6"/><path d="M427.3 560.5H655.4L655.4 573L651.8 586L613.4 578.7L564.2 597L529.5 589.7L489.3 615.2L427.3 609.7Z" fill="none"/></g><rect x="427.3" y="560.5" width="228.1" height="71.9" fill="none" stroke="#5B9BD5" stroke-width="0.8"/><path d="M447.3 614.2L462.7 627L455.40000000000003 627V640.3H439.2V627H431.90000000000003Z" fill="#FF8088" filter="url(#ag)" opacity="0.85"/><path d="M447.3 614.2L462.7 627L455.40000000000003 627V640.3H439.2V627H431.90000000000003Z" fill="url(#arr)"/><path d="M495.0 614.2L510.4 627L503.1 627V640.3H486.9V627H479.6Z" fill="#FF8088" filter="url(#ag)" opacity="0.85"/><path d="M495.0 614.2L510.4 627L503.1 627V640.3H486.9V627H479.6Z" fill="url(#arr)"/><path d="M542.9 614.2L558.3 627L551.0 627V640.3H534.8V627H527.5Z" fill="#FF8088" filter="url(#ag)" opacity="0.85"/><path d="M542.9 614.2L558.3 627L551.0 627V640.3H534.8V627H527.5Z" fill="url(#arr)"/><path d="M590.7 614.2L606.1 627L598.8000000000001 627V640.3H582.6V627H575.3000000000001Z" fill="#FF8088" filter="url(#ag)" opacity="0.85"/><path d="M590.7 614.2L606.1 627L598.8000000000001 627V640.3H582.6V627H575.3000000000001Z" fill="url(#arr)"/><path d="M638.0 614.2L653.4 627L646.1 627V640.3H629.9V627H622.6Z" fill="#FF8088" filter="url(#ag)" opacity="0.85"/><path d="M638.0 614.2L653.4 627L646.1 627V640.3H629.9V627H622.6Z" fill="url(#arr)"/><text x="540.3" y="670.2" font-size="12.8" text-anchor="middle">Household Product Applications</text></g>

</svg>
</body></html>
